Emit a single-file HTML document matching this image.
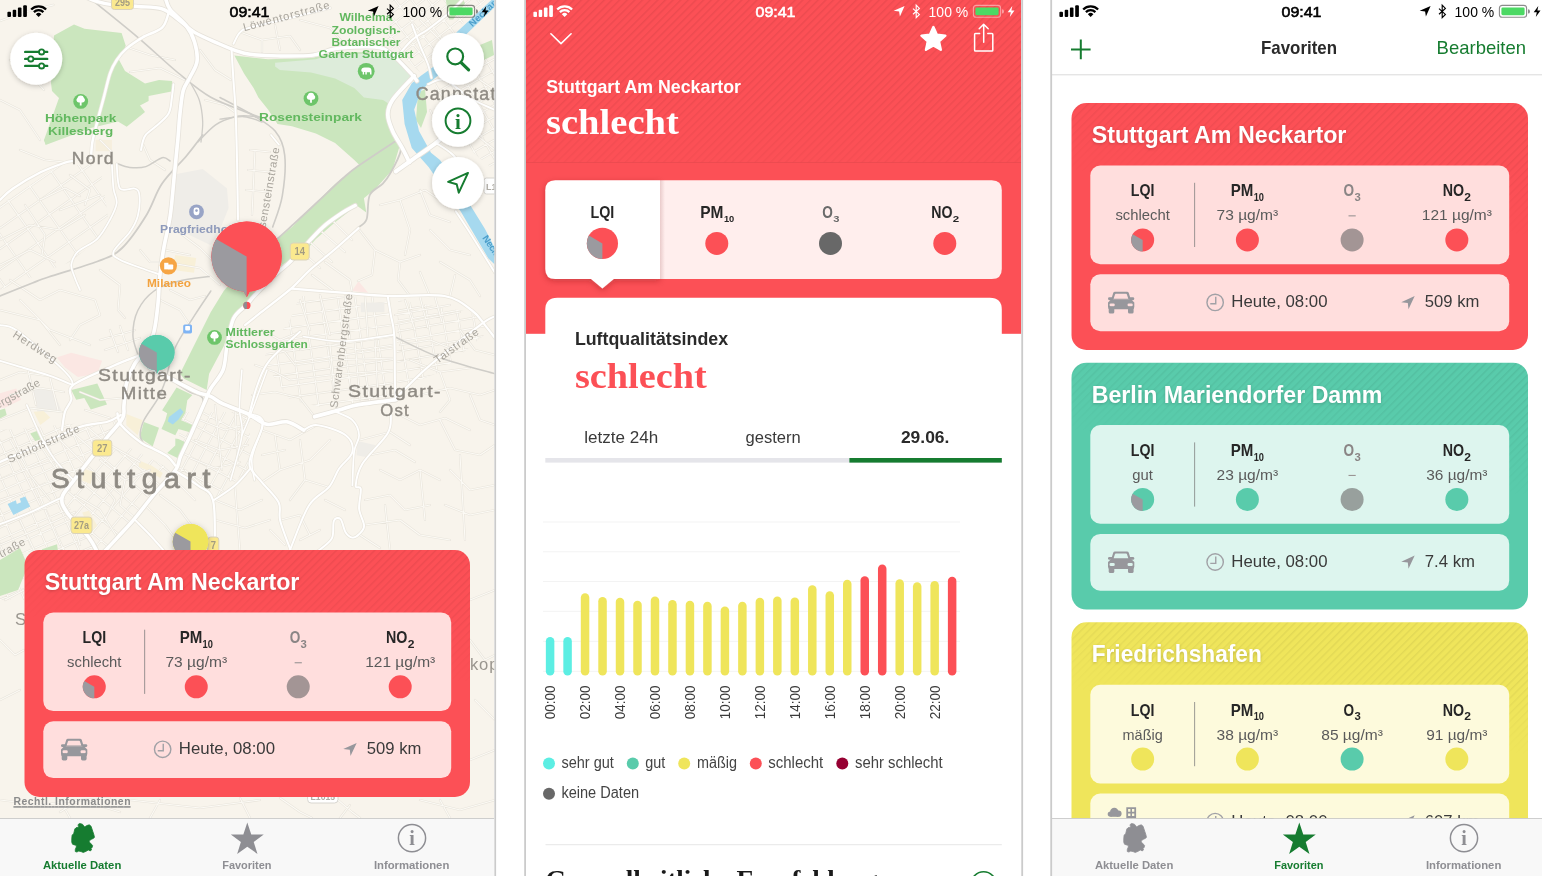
<!DOCTYPE html>
<html lang="de"><head><meta charset="utf-8"><title>Luftqualität</title>
<style>html,body{margin:0;padding:0;background:#fff;overflow:hidden}body{width:1542px;height:876px;font-family:'Liberation Sans',sans-serif}</style>
</head><body>
<svg width="1542" height="876" viewBox="0 0 1542 876" style="display:block;will-change:transform">
<defs>
<pattern id="stripeK" patternUnits="userSpaceOnUse" width="5.4" height="5.4" patternTransform="rotate(45)"><rect x="0" y="0" width="1.4" height="5.4" fill="#000" fill-opacity=".062"/></pattern>
<linearGradient id="fadeG" x1="1" y1="0" x2="0.862" y2="0.513"><stop offset="0" stop-color="#fff"/><stop offset=".45" stop-color="#fff" stop-opacity=".8"/><stop offset="1" stop-color="#fff" stop-opacity="0"/></linearGradient>
<mask id="fadeM" maskContentUnits="objectBoundingBox"><rect x="0" y="0" width="1" height="1" fill="url(#fadeG)"/></mask>
<linearGradient id="fadeH" x1="0" y1="0" x2="0" y2="1"><stop offset="0" stop-color="#fff"/><stop offset=".6" stop-color="#fff" stop-opacity=".9"/><stop offset="1" stop-color="#fff" stop-opacity=".45"/></linearGradient>
<mask id="fadeHM" maskContentUnits="objectBoundingBox"><rect x="0" y="0" width="1" height="1" fill="url(#fadeH)"/></mask>
<filter id="sh1" x="-30%" y="-30%" width="160%" height="160%"><feDropShadow dx="0" dy="1.5" stdDeviation="2.5" flood-color="#000" flood-opacity=".22"/></filter>
<filter id="sh2" x="-30%" y="-30%" width="160%" height="160%"><feDropShadow dx="0" dy="2" stdDeviation="3" flood-color="#000" flood-opacity=".28"/></filter>
<filter id="shTab" x="-20%" y="-20%" width="140%" height="150%"><feDropShadow dx="0" dy="2" stdDeviation="3" flood-color="#7a1518" flood-opacity=".35"/></filter>
<clipPath id="clipP1"><rect x="0" y="0" width="494.4" height="876"/></clipPath>
<clipPath id="clipP2"><rect x="526" y="0" width="495.3" height="876"/></clipPath>
<clipPath id="clipP3"><rect x="1052" y="0" width="490" height="876"/></clipPath>
<clipPath id="clipList3"><rect x="1052" y="75" width="490" height="743.4"/></clipPath>
</defs>
<g clip-path="url(#clipP1)">
<rect x="0.00" y="0.00" width="494.40" height="818.40" rx="0" fill="#F8F4EC" />
<clipPath id="gc436_36"><polygon points="392.0,0.0 486.0,0.0 456.0,30.0 436.0,64.0 420.0,72.0 398.0,52.0 386.0,46.0"/></clipPath><g clip-path="url(#gc436_36)"><path d="M288.2,9.3 L445.8,-113.8 M294.1,16.8 L451.7,-106.3 M299.9,24.3 L457.5,-98.9 M305.8,31.8 L463.4,-91.4 M311.6,39.3 L469.2,-83.9 M317.5,46.7 L475.1,-76.4 M323.3,54.2 L480.9,-68.9 M329.2,61.7 L486.8,-61.4 M335.0,69.2 L492.6,-53.9 M340.9,76.7 L498.5,-46.4 M346.7,84.2 L504.3,-39.0 M352.6,91.7 L510.2,-31.5 M358.4,99.1 L516.0,-24.0 M364.3,106.6 L521.9,-16.5 M370.1,114.1 L527.7,-9.0 M376.0,121.6 L533.6,-1.5 M381.8,129.1 L539.4,6.0 M387.7,136.6 L545.3,13.4 M393.5,144.1 L551.1,20.9 M399.4,151.5 L557.0,28.4 M405.2,159.0 L562.8,35.9 M411.1,166.5 L568.7,43.4 M416.9,174.0 L574.5,50.9 M422.8,181.5 L580.4,58.4 M428.6,189.0 L586.2,65.8 M284.6,27.4 L407.7,185.0 M294.8,19.4 L418.0,177.0 M305.1,11.4 L428.2,169.0 M315.3,3.4 L438.5,161.0 M325.6,-4.6 L448.7,153.0 M335.8,-12.6 L459.0,145.0 M346.1,-20.6 L469.2,137.0 M356.3,-28.6 L479.4,129.0 M366.6,-36.6 L489.7,121.0 M376.8,-44.6 L499.9,113.0 M387.0,-52.7 L510.2,105.0 M397.3,-60.7 L520.4,96.9 M407.5,-68.7 L530.7,88.9 M417.8,-76.7 L540.9,80.9 M428.0,-84.7 L551.2,72.9 M438.3,-92.7 L561.4,64.9 M448.5,-100.7 L571.6,56.9 M458.8,-108.7 L581.9,48.9 M469.0,-116.7 L592.1,40.9 " fill="none" stroke="#E8E4DB" stroke-width="2.2"/><path d="M288.2,9.3 L445.8,-113.8 M294.1,16.8 L451.7,-106.3 M299.9,24.3 L457.5,-98.9 M305.8,31.8 L463.4,-91.4 M311.6,39.3 L469.2,-83.9 M317.5,46.7 L475.1,-76.4 M323.3,54.2 L480.9,-68.9 M329.2,61.7 L486.8,-61.4 M335.0,69.2 L492.6,-53.9 M340.9,76.7 L498.5,-46.4 M346.7,84.2 L504.3,-39.0 M352.6,91.7 L510.2,-31.5 M358.4,99.1 L516.0,-24.0 M364.3,106.6 L521.9,-16.5 M370.1,114.1 L527.7,-9.0 M376.0,121.6 L533.6,-1.5 M381.8,129.1 L539.4,6.0 M387.7,136.6 L545.3,13.4 M393.5,144.1 L551.1,20.9 M399.4,151.5 L557.0,28.4 M405.2,159.0 L562.8,35.9 M411.1,166.5 L568.7,43.4 M416.9,174.0 L574.5,50.9 M422.8,181.5 L580.4,58.4 M428.6,189.0 L586.2,65.8 M284.6,27.4 L407.7,185.0 M294.8,19.4 L418.0,177.0 M305.1,11.4 L428.2,169.0 M315.3,3.4 L438.5,161.0 M325.6,-4.6 L448.7,153.0 M335.8,-12.6 L459.0,145.0 M346.1,-20.6 L469.2,137.0 M356.3,-28.6 L479.4,129.0 M366.6,-36.6 L489.7,121.0 M376.8,-44.6 L499.9,113.0 M387.0,-52.7 L510.2,105.0 M397.3,-60.7 L520.4,96.9 M407.5,-68.7 L530.7,88.9 M417.8,-76.7 L540.9,80.9 M428.0,-84.7 L551.2,72.9 M438.3,-92.7 L561.4,64.9 M448.5,-100.7 L571.6,56.9 M458.8,-108.7 L581.9,48.9 M469.0,-116.7 L592.1,40.9 " fill="none" stroke="#FCFAF5" stroke-width="1.1"/></g>
<clipPath id="gc464_110"><polygon points="434.0,78.0 470.0,60.0 494.0,50.0 494.0,170.0 470.0,150.0 440.0,110.0"/></clipPath><g clip-path="url(#gc464_110)"><path d="M290.6,49.6 L498.4,-70.4 M295.6,58.3 L503.4,-61.7 M300.6,66.9 L508.4,-53.1 M305.6,75.6 L513.4,-44.4 M310.6,84.3 L518.4,-35.7 M315.6,92.9 L523.4,-27.1 M320.6,101.6 L528.4,-18.4 M325.6,110.2 L533.4,-9.8 M330.6,118.9 L538.4,-1.1 M335.6,127.6 L543.4,7.6 M340.6,136.2 L548.4,16.2 M345.6,144.9 L553.4,24.9 M350.6,153.5 L558.4,33.5 M355.6,162.2 L563.4,42.2 M360.6,170.9 L568.4,50.9 M365.6,179.5 L573.4,59.5 M370.6,188.2 L578.4,68.2 M375.6,196.8 L583.4,76.8 M380.6,205.5 L588.4,85.5 M385.6,214.2 L593.4,94.2 M390.6,222.8 L598.4,102.8 M395.6,231.5 L603.4,111.5 M400.6,240.1 L608.4,120.1 M405.6,248.8 L613.4,128.8 M410.6,257.5 L618.4,137.5 M415.6,266.1 L623.4,146.1 M420.6,274.8 L628.4,154.8 M425.6,283.4 L633.4,163.4 M430.6,292.1 L638.4,172.1 M284.5,75.1 L404.5,282.9 M296.6,68.1 L416.6,275.9 M308.7,61.1 L428.7,268.9 M320.9,54.1 L440.9,261.9 M333.0,47.1 L453.0,254.9 M345.1,40.1 L465.1,247.9 M357.2,33.1 L477.2,240.9 M369.4,26.1 L489.4,233.9 M381.5,19.1 L501.5,226.9 M393.6,12.1 L513.6,219.9 M405.7,5.1 L525.7,212.9 M417.9,-1.9 L537.9,205.9 M430.0,-8.9 L550.0,198.9 M442.1,-15.9 L562.1,191.9 M454.2,-22.9 L574.2,184.9 M466.4,-29.9 L586.4,177.9 M478.5,-36.9 L598.5,170.9 M490.6,-43.9 L610.6,163.9 M502.7,-50.9 L622.7,156.9 M514.9,-57.9 L634.9,149.9 M527.0,-64.9 L647.0,142.9 " fill="none" stroke="#E8E4DB" stroke-width="2.2"/><path d="M290.6,49.6 L498.4,-70.4 M295.6,58.3 L503.4,-61.7 M300.6,66.9 L508.4,-53.1 M305.6,75.6 L513.4,-44.4 M310.6,84.3 L518.4,-35.7 M315.6,92.9 L523.4,-27.1 M320.6,101.6 L528.4,-18.4 M325.6,110.2 L533.4,-9.8 M330.6,118.9 L538.4,-1.1 M335.6,127.6 L543.4,7.6 M340.6,136.2 L548.4,16.2 M345.6,144.9 L553.4,24.9 M350.6,153.5 L558.4,33.5 M355.6,162.2 L563.4,42.2 M360.6,170.9 L568.4,50.9 M365.6,179.5 L573.4,59.5 M370.6,188.2 L578.4,68.2 M375.6,196.8 L583.4,76.8 M380.6,205.5 L588.4,85.5 M385.6,214.2 L593.4,94.2 M390.6,222.8 L598.4,102.8 M395.6,231.5 L603.4,111.5 M400.6,240.1 L608.4,120.1 M405.6,248.8 L613.4,128.8 M410.6,257.5 L618.4,137.5 M415.6,266.1 L623.4,146.1 M420.6,274.8 L628.4,154.8 M425.6,283.4 L633.4,163.4 M430.6,292.1 L638.4,172.1 M284.5,75.1 L404.5,282.9 M296.6,68.1 L416.6,275.9 M308.7,61.1 L428.7,268.9 M320.9,54.1 L440.9,261.9 M333.0,47.1 L453.0,254.9 M345.1,40.1 L465.1,247.9 M357.2,33.1 L477.2,240.9 M369.4,26.1 L489.4,233.9 M381.5,19.1 L501.5,226.9 M393.6,12.1 L513.6,219.9 M405.7,5.1 L525.7,212.9 M417.9,-1.9 L537.9,205.9 M430.0,-8.9 L550.0,198.9 M442.1,-15.9 L562.1,191.9 M454.2,-22.9 L574.2,184.9 M466.4,-29.9 L586.4,177.9 M478.5,-36.9 L598.5,170.9 M490.6,-43.9 L610.6,163.9 M502.7,-50.9 L622.7,156.9 M514.9,-57.9 L634.9,149.9 M527.0,-64.9 L647.0,142.9 " fill="none" stroke="#FCFAF5" stroke-width="1.1"/></g>
<clipPath id="gc59_510"><polygon points="0.0,430.0 60.0,425.0 118.0,420.0 92.0,458.0 64.0,497.0 88.0,540.0 97.0,552.0 24.0,552.0 24.0,600.0 0.0,600.0"/></clipPath><g clip-path="url(#gc59_510)"><path d="M-184.8,405.1 L144.1,258.6 M-180.3,415.1 L148.6,268.7 M-175.8,425.2 L153.1,278.7 M-171.3,435.2 L157.5,288.8 M-166.9,445.3 L162.0,298.8 M-162.4,455.3 L166.5,308.9 M-157.9,465.4 L171.0,318.9 M-153.4,475.4 L175.4,329.0 M-149.0,485.5 L179.9,339.0 M-144.5,495.5 L184.4,349.1 M-140.0,505.6 L188.9,359.1 M-135.5,515.6 L193.3,369.2 M-131.1,525.7 L197.8,379.2 M-126.6,535.7 L202.3,389.3 M-122.1,545.8 L206.8,399.3 M-117.6,555.8 L211.2,409.4 M-113.2,565.9 L215.7,419.4 M-108.7,575.9 L220.2,429.5 M-104.2,586.0 L224.7,439.5 M-99.7,596.0 L229.1,449.6 M-95.3,606.1 L233.6,459.6 M-90.8,616.1 L238.1,469.7 M-86.3,626.1 L242.6,479.7 M-81.8,636.2 L247.0,489.8 M-77.4,646.2 L251.5,499.8 M-72.9,656.3 L256.0,509.9 M-68.4,666.3 L260.5,519.9 M-64.0,676.4 L264.9,530.0 M-59.5,686.4 L269.4,540.0 M-55.0,696.5 L273.9,550.1 M-50.5,706.5 L278.3,560.1 M-46.1,716.6 L282.8,570.2 M-41.6,726.6 L287.3,580.2 M-37.1,736.7 L291.8,590.3 M-32.6,746.7 L296.2,600.3 M-28.2,756.8 L300.7,610.4 M-23.7,766.8 L305.2,620.4 M-191.4,424.5 L-45.0,753.3 M-178.7,418.8 L-32.2,747.7 M-165.9,413.1 L-19.4,742.0 M-153.1,407.4 L-6.6,736.3 M-140.3,401.7 L6.1,730.6 M-127.5,396.0 L18.9,724.9 M-114.7,390.3 L31.7,719.2 M-101.9,384.6 L44.5,713.5 M-89.1,378.9 L57.3,707.8 M-76.3,373.2 L70.1,702.1 M-63.5,367.5 L82.9,696.4 M-50.8,361.8 L95.7,690.7 M-38.0,356.1 L108.5,685.0 M-25.2,350.4 L121.3,679.3 M-12.4,344.7 L134.0,673.6 M0.4,339.1 L146.8,667.9 M13.2,333.4 L159.6,662.2 M26.0,327.7 L172.4,656.5 M38.8,322.0 L185.2,650.8 M51.6,316.3 L198.0,645.2 M64.4,310.6 L210.8,639.5 M77.1,304.9 L223.6,633.8 M89.9,299.2 L236.4,628.1 M102.7,293.5 L249.1,622.4 M115.5,287.8 L261.9,616.7 M128.3,282.1 L274.7,611.0 M141.1,276.4 L287.5,605.3 M153.9,270.7 L300.3,599.6 M166.7,265.0 L313.1,593.9 " fill="none" stroke="#E8E4DB" stroke-width="2.2"/><path d="M-184.8,405.1 L144.1,258.6 M-180.3,415.1 L148.6,268.7 M-175.8,425.2 L153.1,278.7 M-171.3,435.2 L157.5,288.8 M-166.9,445.3 L162.0,298.8 M-162.4,455.3 L166.5,308.9 M-157.9,465.4 L171.0,318.9 M-153.4,475.4 L175.4,329.0 M-149.0,485.5 L179.9,339.0 M-144.5,495.5 L184.4,349.1 M-140.0,505.6 L188.9,359.1 M-135.5,515.6 L193.3,369.2 M-131.1,525.7 L197.8,379.2 M-126.6,535.7 L202.3,389.3 M-122.1,545.8 L206.8,399.3 M-117.6,555.8 L211.2,409.4 M-113.2,565.9 L215.7,419.4 M-108.7,575.9 L220.2,429.5 M-104.2,586.0 L224.7,439.5 M-99.7,596.0 L229.1,449.6 M-95.3,606.1 L233.6,459.6 M-90.8,616.1 L238.1,469.7 M-86.3,626.1 L242.6,479.7 M-81.8,636.2 L247.0,489.8 M-77.4,646.2 L251.5,499.8 M-72.9,656.3 L256.0,509.9 M-68.4,666.3 L260.5,519.9 M-64.0,676.4 L264.9,530.0 M-59.5,686.4 L269.4,540.0 M-55.0,696.5 L273.9,550.1 M-50.5,706.5 L278.3,560.1 M-46.1,716.6 L282.8,570.2 M-41.6,726.6 L287.3,580.2 M-37.1,736.7 L291.8,590.3 M-32.6,746.7 L296.2,600.3 M-28.2,756.8 L300.7,610.4 M-23.7,766.8 L305.2,620.4 M-191.4,424.5 L-45.0,753.3 M-178.7,418.8 L-32.2,747.7 M-165.9,413.1 L-19.4,742.0 M-153.1,407.4 L-6.6,736.3 M-140.3,401.7 L6.1,730.6 M-127.5,396.0 L18.9,724.9 M-114.7,390.3 L31.7,719.2 M-101.9,384.6 L44.5,713.5 M-89.1,378.9 L57.3,707.8 M-76.3,373.2 L70.1,702.1 M-63.5,367.5 L82.9,696.4 M-50.8,361.8 L95.7,690.7 M-38.0,356.1 L108.5,685.0 M-25.2,350.4 L121.3,679.3 M-12.4,344.7 L134.0,673.6 M0.4,339.1 L146.8,667.9 M13.2,333.4 L159.6,662.2 M26.0,327.7 L172.4,656.5 M38.8,322.0 L185.2,650.8 M51.6,316.3 L198.0,645.2 M64.4,310.6 L210.8,639.5 M77.1,304.9 L223.6,633.8 M89.9,299.2 L236.4,628.1 M102.7,293.5 L249.1,622.4 M115.5,287.8 L261.9,616.7 M128.3,282.1 L274.7,611.0 M141.1,276.4 L287.5,605.3 M153.9,270.7 L300.3,599.6 M166.7,265.0 L313.1,593.9 " fill="none" stroke="#FCFAF5" stroke-width="1.1"/></g>
<clipPath id="gc118_498"><polygon points="125.0,445.0 172.0,470.0 140.0,515.0 105.0,550.0 98.0,552.0 68.0,512.0 64.0,497.0 92.0,458.0"/></clipPath><g clip-path="url(#gc118_498)"><path d="M-51.0,497.7 L87.8,332.2 M-41.8,505.4 L97.0,339.9 M-32.6,513.1 L106.2,347.6 M-23.4,520.8 L115.4,355.3 M-14.2,528.5 L124.6,363.1 M-5.0,536.2 L133.8,370.8 M4.1,544.0 L143.0,378.5 M13.3,551.7 L152.2,386.2 M22.5,559.4 L161.4,393.9 M31.7,567.1 L170.6,401.6 M40.9,574.8 L179.8,409.3 M50.1,582.5 L189.0,417.1 M59.3,590.2 L198.1,424.8 M68.5,597.9 L207.3,432.5 M77.7,605.7 L216.5,440.2 M86.9,613.4 L225.7,447.9 M96.1,621.1 L234.9,455.6 M105.3,628.8 L244.1,463.3 M114.5,636.5 L253.3,471.0 M123.7,644.2 L262.5,478.8 M132.8,651.9 L271.7,486.5 M142.0,659.7 L280.9,494.2 M151.2,667.4 L290.1,501.9 M-43.8,523.3 L121.7,662.1 M-33.5,511.0 L132.0,649.9 M-23.2,498.8 L142.2,637.6 M-12.9,486.5 L152.5,625.4 M-2.7,474.3 L162.8,613.1 M7.6,462.0 L173.1,600.9 M17.9,449.8 L183.4,588.6 M28.2,437.5 L193.7,576.3 M38.5,425.2 L203.9,564.1 M48.8,413.0 L214.2,551.8 M59.1,400.7 L224.5,539.6 M69.3,388.5 L234.8,527.3 M79.6,376.2 L245.1,515.1 M89.9,364.0 L255.4,502.8 M100.2,351.7 L265.7,490.6 M110.5,339.5 L275.9,478.3 M120.8,327.2 L286.2,466.0 " fill="none" stroke="#E8E4DB" stroke-width="2.2"/><path d="M-51.0,497.7 L87.8,332.2 M-41.8,505.4 L97.0,339.9 M-32.6,513.1 L106.2,347.6 M-23.4,520.8 L115.4,355.3 M-14.2,528.5 L124.6,363.1 M-5.0,536.2 L133.8,370.8 M4.1,544.0 L143.0,378.5 M13.3,551.7 L152.2,386.2 M22.5,559.4 L161.4,393.9 M31.7,567.1 L170.6,401.6 M40.9,574.8 L179.8,409.3 M50.1,582.5 L189.0,417.1 M59.3,590.2 L198.1,424.8 M68.5,597.9 L207.3,432.5 M77.7,605.7 L216.5,440.2 M86.9,613.4 L225.7,447.9 M96.1,621.1 L234.9,455.6 M105.3,628.8 L244.1,463.3 M114.5,636.5 L253.3,471.0 M123.7,644.2 L262.5,478.8 M132.8,651.9 L271.7,486.5 M142.0,659.7 L280.9,494.2 M151.2,667.4 L290.1,501.9 M-43.8,523.3 L121.7,662.1 M-33.5,511.0 L132.0,649.9 M-23.2,498.8 L142.2,637.6 M-12.9,486.5 L152.5,625.4 M-2.7,474.3 L162.8,613.1 M7.6,462.0 L173.1,600.9 M17.9,449.8 L183.4,588.6 M28.2,437.5 L193.7,576.3 M38.5,425.2 L203.9,564.1 M48.8,413.0 L214.2,551.8 M59.1,400.7 L224.5,539.6 M69.3,388.5 L234.8,527.3 M79.6,376.2 L245.1,515.1 M89.9,364.0 L255.4,502.8 M100.2,351.7 L265.7,490.6 M110.5,339.5 L275.9,478.3 M120.8,327.2 L286.2,466.0 " fill="none" stroke="#FCFAF5" stroke-width="1.1"/></g>
<clipPath id="gc214_456"><polygon points="180.0,412.0 250.0,412.0 250.0,468.0 214.0,500.0 178.0,470.0"/></clipPath><g clip-path="url(#gc214_456)"><path d="M75.6,482.1 L158.2,326.7 M85.3,487.2 L167.9,331.8 M95.0,492.4 L177.6,337.0 M104.7,497.6 L187.3,342.2 M114.4,502.7 L197.0,347.3 M124.1,507.9 L206.8,352.5 M133.8,513.0 L216.5,357.6 M143.5,518.2 L226.2,362.8 M153.3,523.4 L235.9,368.0 M163.0,528.5 L245.6,373.1 M172.7,533.7 L255.3,378.3 M182.4,538.9 L265.0,383.5 M192.1,544.0 L274.7,388.6 M201.8,549.2 L284.5,393.8 M211.5,554.4 L294.2,399.0 M221.2,559.5 L303.9,404.1 M231.0,564.7 L313.6,409.3 M240.7,569.8 L323.3,414.4 M250.4,575.0 L333.0,419.6 M260.1,580.2 L342.7,424.8 M269.8,585.3 L352.4,429.9 M88.4,504.7 L243.8,587.4 M95.5,491.5 L250.9,574.1 M102.5,478.3 L257.9,560.9 M109.5,465.0 L264.9,547.6 M116.6,451.8 L272.0,534.4 M123.6,438.5 L279.0,521.2 M130.7,425.3 L286.1,507.9 M137.7,412.0 L293.1,494.7 M144.8,398.8 L300.1,481.4 M151.8,385.5 L307.2,468.2 M158.8,372.3 L314.2,454.9 M165.9,359.1 L321.3,441.7 M172.9,345.8 L328.3,428.4 M180.0,332.6 L335.4,415.2 M187.0,319.3 L342.4,402.0 " fill="none" stroke="#E8E4DB" stroke-width="2.2"/><path d="M75.6,482.1 L158.2,326.7 M85.3,487.2 L167.9,331.8 M95.0,492.4 L177.6,337.0 M104.7,497.6 L187.3,342.2 M114.4,502.7 L197.0,347.3 M124.1,507.9 L206.8,352.5 M133.8,513.0 L216.5,357.6 M143.5,518.2 L226.2,362.8 M153.3,523.4 L235.9,368.0 M163.0,528.5 L245.6,373.1 M172.7,533.7 L255.3,378.3 M182.4,538.9 L265.0,383.5 M192.1,544.0 L274.7,388.6 M201.8,549.2 L284.5,393.8 M211.5,554.4 L294.2,399.0 M221.2,559.5 L303.9,404.1 M231.0,564.7 L313.6,409.3 M240.7,569.8 L323.3,414.4 M250.4,575.0 L333.0,419.6 M260.1,580.2 L342.7,424.8 M269.8,585.3 L352.4,429.9 M88.4,504.7 L243.8,587.4 M95.5,491.5 L250.9,574.1 M102.5,478.3 L257.9,560.9 M109.5,465.0 L264.9,547.6 M116.6,451.8 L272.0,534.4 M123.6,438.5 L279.0,521.2 M130.7,425.3 L286.1,507.9 M137.7,412.0 L293.1,494.7 M144.8,398.8 L300.1,481.4 M151.8,385.5 L307.2,468.2 M158.8,372.3 L314.2,454.9 M165.9,359.1 L321.3,441.7 M172.9,345.8 L328.3,428.4 M180.0,332.6 L335.4,415.2 M187.0,319.3 L342.4,402.0 " fill="none" stroke="#FCFAF5" stroke-width="1.1"/></g>
<clipPath id="gc328_353"><polygon points="300.0,296.0 390.0,297.0 395.0,398.0 335.0,410.0 290.0,400.0 262.0,360.0 290.0,320.0"/></clipPath><g clip-path="url(#gc328_353)"><path d="M176.5,227.4 L440.0,190.4 M178.1,238.8 L441.6,201.8 M179.7,250.2 L443.2,213.2 M181.3,261.6 L444.8,224.6 M182.9,273.0 L446.4,236.0 M184.5,284.4 L448.0,247.3 M186.1,295.8 L449.6,258.7 M187.7,307.1 L451.2,270.1 M189.3,318.5 L452.8,281.5 M190.9,329.9 L454.4,292.9 M192.5,341.3 L456.0,304.3 M194.2,352.7 L457.6,315.7 M195.8,364.1 L459.2,327.1 M197.4,375.5 L460.8,338.5 M199.0,386.9 L462.4,349.8 M200.6,398.2 L464.0,361.2 M202.2,409.6 L465.6,372.6 M203.8,421.0 L467.2,384.0 M205.4,432.4 L468.8,395.4 M207.0,443.8 L470.4,406.8 M208.6,455.2 L472.0,418.2 M210.2,466.6 L473.6,429.6 M211.8,478.0 L475.2,440.9 M213.4,489.4 L476.8,452.3 M215.0,500.7 L478.4,463.7 M216.6,512.1 L480.0,475.1 M218.2,523.5 L481.6,486.5 M158.5,242.6 L195.5,506.0 M175.3,240.2 L212.3,503.6 M192.1,237.9 L229.2,501.3 M209.0,235.5 L246.0,498.9 M225.8,233.1 L262.8,496.5 M242.7,230.8 L279.7,494.2 M259.5,228.4 L296.5,491.8 M276.3,226.0 L313.3,489.4 M293.2,223.7 L330.2,487.1 M310.0,221.3 L347.0,484.7 M326.8,218.9 L363.8,482.3 M343.7,216.6 L380.7,480.0 M360.5,214.2 L397.5,477.6 M377.3,211.8 L414.3,475.2 M394.2,209.5 L431.2,472.9 M411.0,207.1 L448.0,470.5 M427.8,204.7 L464.9,468.1 M444.7,202.4 L481.7,465.8 M461.5,200.0 L498.5,463.4 " fill="none" stroke="#E8E4DB" stroke-width="2.2"/><path d="M176.5,227.4 L440.0,190.4 M178.1,238.8 L441.6,201.8 M179.7,250.2 L443.2,213.2 M181.3,261.6 L444.8,224.6 M182.9,273.0 L446.4,236.0 M184.5,284.4 L448.0,247.3 M186.1,295.8 L449.6,258.7 M187.7,307.1 L451.2,270.1 M189.3,318.5 L452.8,281.5 M190.9,329.9 L454.4,292.9 M192.5,341.3 L456.0,304.3 M194.2,352.7 L457.6,315.7 M195.8,364.1 L459.2,327.1 M197.4,375.5 L460.8,338.5 M199.0,386.9 L462.4,349.8 M200.6,398.2 L464.0,361.2 M202.2,409.6 L465.6,372.6 M203.8,421.0 L467.2,384.0 M205.4,432.4 L468.8,395.4 M207.0,443.8 L470.4,406.8 M208.6,455.2 L472.0,418.2 M210.2,466.6 L473.6,429.6 M211.8,478.0 L475.2,440.9 M213.4,489.4 L476.8,452.3 M215.0,500.7 L478.4,463.7 M216.6,512.1 L480.0,475.1 M218.2,523.5 L481.6,486.5 M158.5,242.6 L195.5,506.0 M175.3,240.2 L212.3,503.6 M192.1,237.9 L229.2,501.3 M209.0,235.5 L246.0,498.9 M225.8,233.1 L262.8,496.5 M242.7,230.8 L279.7,494.2 M259.5,228.4 L296.5,491.8 M276.3,226.0 L313.3,489.4 M293.2,223.7 L330.2,487.1 M310.0,221.3 L347.0,484.7 M326.8,218.9 L363.8,482.3 M343.7,216.6 L380.7,480.0 M360.5,214.2 L397.5,477.6 M377.3,211.8 L414.3,475.2 M394.2,209.5 L431.2,472.9 M411.0,207.1 L448.0,470.5 M427.8,204.7 L464.9,468.1 M444.7,202.4 L481.7,465.8 M461.5,200.0 L498.5,463.4 " fill="none" stroke="#FCFAF5" stroke-width="1.1"/></g>
<clipPath id="gc443_341"><polygon points="398.0,300.0 470.0,312.0 490.0,330.0 440.0,372.0 412.0,383.0 396.0,383.0"/></clipPath><g clip-path="url(#gc443_341)"><path d="M331.7,251.5 L516.8,218.8 M333.4,261.3 L518.6,228.7 M335.1,271.2 L520.3,238.5 M336.9,281.0 L522.0,248.4 M338.6,290.9 L523.8,258.2 M340.4,300.7 L525.5,268.1 M342.1,310.6 L527.2,277.9 M343.8,320.4 L529.0,287.8 M345.6,330.2 L530.7,297.6 M347.3,340.1 L532.4,307.5 M349.0,349.9 L534.2,317.3 M350.8,359.8 L535.9,327.1 M352.5,369.6 L537.7,337.0 M354.2,379.5 L539.4,346.8 M356.0,389.3 L541.1,356.7 M357.7,399.2 L542.9,366.5 M359.5,409.0 L544.6,376.4 M361.2,418.9 L546.3,386.2 M362.9,428.7 L548.1,396.1 M364.7,438.6 L549.8,405.9 M366.4,448.4 L551.5,415.8 M368.1,458.3 L553.3,425.6 M369.9,468.1 L555.0,435.5 M312.4,269.1 L345.1,454.2 M327.2,266.5 L359.9,451.6 M342.0,263.9 L374.6,449.0 M356.8,261.3 L389.4,446.4 M371.5,258.7 L404.2,443.8 M386.3,256.0 L418.9,441.2 M401.1,253.4 L433.7,438.6 M415.8,250.8 L448.5,436.0 M430.6,248.2 L463.3,433.4 M445.4,245.6 L478.0,430.8 M460.2,243.0 L492.8,428.2 M474.9,240.4 L507.6,425.6 M489.7,237.8 L522.4,423.0 M504.5,235.2 L537.1,420.4 M519.2,232.6 L551.9,417.7 M534.0,230.0 L566.7,415.1 M548.8,227.4 L581.4,412.5 " fill="none" stroke="#E8E4DB" stroke-width="2.2"/><path d="M331.7,251.5 L516.8,218.8 M333.4,261.3 L518.6,228.7 M335.1,271.2 L520.3,238.5 M336.9,281.0 L522.0,248.4 M338.6,290.9 L523.8,258.2 M340.4,300.7 L525.5,268.1 M342.1,310.6 L527.2,277.9 M343.8,320.4 L529.0,287.8 M345.6,330.2 L530.7,297.6 M347.3,340.1 L532.4,307.5 M349.0,349.9 L534.2,317.3 M350.8,359.8 L535.9,327.1 M352.5,369.6 L537.7,337.0 M354.2,379.5 L539.4,346.8 M356.0,389.3 L541.1,356.7 M357.7,399.2 L542.9,366.5 M359.5,409.0 L544.6,376.4 M361.2,418.9 L546.3,386.2 M362.9,428.7 L548.1,396.1 M364.7,438.6 L549.8,405.9 M366.4,448.4 L551.5,415.8 M368.1,458.3 L553.3,425.6 M369.9,468.1 L555.0,435.5 M312.4,269.1 L345.1,454.2 M327.2,266.5 L359.9,451.6 M342.0,263.9 L374.6,449.0 M356.8,261.3 L389.4,446.4 M371.5,258.7 L404.2,443.8 M386.3,256.0 L418.9,441.2 M401.1,253.4 L433.7,438.6 M415.8,250.8 L448.5,436.0 M430.6,248.2 L463.3,433.4 M445.4,245.6 L478.0,430.8 M460.2,243.0 L492.8,428.2 M474.9,240.4 L507.6,425.6 M489.7,237.8 L522.4,423.0 M504.5,235.2 L537.1,420.4 M519.2,232.6 L551.9,417.7 M534.0,230.0 L566.7,415.1 M548.8,227.4 L581.4,412.5 " fill="none" stroke="#FCFAF5" stroke-width="1.1"/></g>
<clipPath id="gc55_227"><polygon points="0.0,205.0 60.0,165.0 100.0,165.0 110.0,230.0 70.0,262.0 0.0,290.0"/></clipPath><g clip-path="url(#gc55_227)"><path d="M-133.4,176.3 L71.4,32.9 M-123.7,190.2 L81.1,46.9 M-113.9,204.2 L90.9,60.8 M-104.2,218.1 L100.6,74.7 M-94.4,232.0 L110.4,88.6 M-84.7,246.0 L120.1,102.6 M-74.9,259.9 L129.9,116.5 M-65.2,273.8 L139.6,130.4 M-55.4,287.7 L149.4,144.3 M-45.7,301.7 L159.1,158.3 M-35.9,315.6 L168.9,172.2 M-26.2,329.5 L178.6,186.1 M-16.4,343.4 L188.4,200.0 M-6.7,357.4 L198.1,214.0 M3.1,371.3 L207.9,227.9 M12.8,385.2 L217.6,241.8 M22.6,399.1 L227.4,255.7 M32.3,413.1 L237.1,269.7 M42.1,427.0 L246.9,283.6 M-142.0,212.9 L1.4,417.7 M-120.7,198.0 L22.7,402.7 M-99.4,183.0 L44.0,387.8 M-78.1,168.1 L65.3,372.9 M-56.8,153.2 L86.6,358.0 M-35.5,138.3 L107.9,343.1 M-14.2,123.4 L129.2,328.2 M7.1,108.5 L150.5,313.3 M28.4,93.6 L171.8,298.3 M49.7,78.6 L193.0,283.4 M71.0,63.7 L214.3,268.5 M92.3,48.8 L235.6,253.6 M113.5,33.9 L256.9,238.7 " fill="none" stroke="#E8E4DB" stroke-width="2.2"/><path d="M-133.4,176.3 L71.4,32.9 M-123.7,190.2 L81.1,46.9 M-113.9,204.2 L90.9,60.8 M-104.2,218.1 L100.6,74.7 M-94.4,232.0 L110.4,88.6 M-84.7,246.0 L120.1,102.6 M-74.9,259.9 L129.9,116.5 M-65.2,273.8 L139.6,130.4 M-55.4,287.7 L149.4,144.3 M-45.7,301.7 L159.1,158.3 M-35.9,315.6 L168.9,172.2 M-26.2,329.5 L178.6,186.1 M-16.4,343.4 L188.4,200.0 M-6.7,357.4 L198.1,214.0 M3.1,371.3 L207.9,227.9 M12.8,385.2 L217.6,241.8 M22.6,399.1 L227.4,255.7 M32.3,413.1 L237.1,269.7 M42.1,427.0 L246.9,283.6 M-142.0,212.9 L1.4,417.7 M-120.7,198.0 L22.7,402.7 M-99.4,183.0 L44.0,387.8 M-78.1,168.1 L65.3,372.9 M-56.8,153.2 L86.6,358.0 M-35.5,138.3 L107.9,343.1 M-14.2,123.4 L129.2,328.2 M7.1,108.5 L150.5,313.3 M28.4,93.6 L171.8,298.3 M49.7,78.6 L193.0,283.4 M71.0,63.7 L214.3,268.5 M92.3,48.8 L235.6,253.6 M113.5,33.9 L256.9,238.7 " fill="none" stroke="#FCFAF5" stroke-width="1.1"/></g>
<polygon points="74.0,24.5 84.5,28.7 121.6,33.0 126.0,46.5 118.0,58.0 125.0,71.0 145.0,83.6 159.0,80.0 172.0,81.0 174.0,91.0 148.6,96.0 148.6,101.0 140.0,105.6 145.0,112.0 126.7,126.7 118.0,121.6 91.0,128.0 45.6,145.0 44.0,140.0 59.0,98.0 52.0,91.0 51.0,83.0 54.0,35.5" fill="#CBE6BE" />
<polygon points="234.4,55.6 268.0,59.2 311.1,58.0 327.9,54.4 354.0,52.0 387.8,52.5 402.2,61.6 411.8,78.4 397.4,95.1 387.8,109.5 387.8,123.9 395.0,140.7 399.8,145.5 392.6,169.5 375.8,188.6 363.9,198.2 366.3,212.6 356.7,205.4 335.1,222.2 315.9,239.0 306.3,250.0 282.3,264.7 262.0,287.0 245.0,305.0 233.5,318.6 223.7,346.2 209.1,373.8 206.7,390.1 184.1,378.8 180.0,373.8 191.3,351.0 210.8,312.0 223.7,291.0 240.0,272.0 277.5,239.0 292.0,227.0 311.1,207.8 335.1,183.9 359.1,164.7 354.3,159.9 335.1,143.1 315.9,133.5 292.0,126.3 277.5,123.9 268.0,109.5 258.4,97.5 253.6,88.0 244.0,73.6" fill="#CBE6BE" />
<polygon points="275.1,62.8 315.9,59.2 330.3,54.4 387.8,53.2 402.2,61.6 411.8,76.0 402.2,88.0 390.2,104.7 383.0,99.9 363.9,97.5 354.3,88.0 335.1,78.4 311.1,72.4 279.9,70.0 275.1,66.4" fill="#DDECDA" />
<polygon points="176.7,173.9 202.7,169.0 227.0,188.5 228.6,208.0 218.9,232.3 210.8,245.2 170.2,225.8" fill="#EFEDE8" />
<polygon points="95.7,139.9 111.9,139.9 111.9,151.2 95.7,151.2" fill="#F6EFDE" />
<polygon points="43.8,139.9 53.5,135.0 55.0,137.0 45.0,142.0" fill="#CBE6BE" />
<polygon points="175.1,255.0 196.2,258.0 194.0,272.8 173.0,270.0" fill="#F8F0D8" />
<polygon points="56.7,357.5 71.3,352.7 102.1,360.8 97.3,373.8 77.8,377.0 64.9,367.3" fill="#FBE7E3" />
<polygon points="0.0,393.2 16.2,388.4 21.1,399.7 4.9,407.8 0.0,408.0" fill="#FBE7E3" />
<polygon points="71.3,390.0 97.3,383.5 107.0,404.6 90.8,409.4 84.3,398.1 76.2,399.7" fill="#CBE6BE" />
<polygon points="32.4,388.4 53.5,390.0 61.6,412.0 37.3,412.0" fill="#EFEDE8" />
<polygon points="358.5,281.3 368.2,292.7 352.0,291.0" fill="#FBE7E3" />
<polygon points="360.9,302.4 384.4,302.4 384.4,312.2 360.9,312.2" fill="#EFEDE8" />
<polygon points="357.4,441.1 375.9,445.3 365.8,457.0 356.6,455.3" fill="#EFEDE8" />
<polygon points="176.6,387.6 192.3,395.1 187.3,400.2 185.4,412.7 181.0,420.3 192.9,425.3 189.8,432.2 178.5,429.0 175.3,435.3 161.5,429.0 165.3,420.3 167.2,413.3 162.1,410.2" fill="#CBE6BE" />
<polygon points="143.9,422.1 159.0,427.8 152.7,446.6 139.5,437.8" fill="#CBE6BE" />
<polygon points="178.5,439.1 185.4,442.2 178.5,458.6 167.2,452.9 175.3,445.4 175.3,438.5" fill="#CBE6BE" />
<polygon points="169.0,417.1 180.4,408.3 183.5,412.1 178.5,419.6 172.8,424.6 167.8,421.5" fill="#A6D9EF" />
<polygon points="126.3,414.0 142.7,420.3 137.6,435.3 126.3,425.3" fill="#F8F0D8" />
<polygon points="138.9,460.5 151.5,465.5 162.8,473.0 160.3,478.0 147.7,470.5 138.9,466.7" fill="#F8F0D8" />
<polygon points="33.6,411.7 43.6,410.9 50.3,417.6 40.3,425.1" fill="#F8F0D8" />
<polygon points="83.9,468.8 94.0,472.1 90.6,483.9 82.2,480.5" fill="#F8F0D8" />
<polygon points="82.2,512.4 88.9,510.7 97.3,525.8 90.6,532.5" fill="#F8F0D8" />
<polygon points="7.6,504.0 15.9,500.3 16.8,504.0 21.0,502.3 19.8,498.6 25.2,496.4 30.2,506.5 13.4,514.9" fill="#A6D9EF" />
<polygon points="30.2,433.5 38.6,430.2 43.6,438.6 35.2,441.1" fill="#CBE6BE" />
<polygon points="0.0,410.0 5.0,408.4 6.7,415.1 0.0,418.4" fill="#CBE6BE" />
<polygon points="41.9,549.3 57.0,544.3 58.7,556.0 42.8,556.8" fill="#CBE6BE" />
<polygon points="0.0,560.0 20.0,548.0 28.0,566.0 18.0,590.0 0.0,596.0" fill="#CBE6BE" />
<polygon points="418.0,93.0 425.0,89.0 427.0,112.0 421.0,128.0 416.0,120.0" fill="#CBE6BE" />
<polygon points="480.0,45.0 492.0,40.0 494.0,55.0 484.0,60.0" fill="#CBE6BE" />
<polygon points="445.7,-1.0 462.8,-1.0 465.1,3.4 453.1,19.4 449.1,19.4" fill="#CBE6BE" />
<polygon points="495.0,-3.3 457.1,31.7 444.0,48.0 434.9,65.8 420.6,76.0 411.8,83.2 402.2,99.9 404.6,123.9 411.8,147.9 428.6,167.1 441.0,185.0 460.6,211.2 476.8,238.8 488.2,258.2 495.0,264.7 495.0,248.5 485.0,229.0 472.0,208.0 455.0,181.0 440.0,159.9 431.0,152.7 419.0,131.1 414.2,109.5 421.4,90.3 428.0,84.0 441.0,73.0 452.0,55.0 466.8,33.7 496.0,5.7" fill="#A6D9EF" />
<path d="M0.0,21.0 L25.0,12.0 L53.5,4.9 M10.0,60.0 L30.0,75.0 L44.0,90.0 M0.0,100.0 L20.0,110.0 L40.0,140.0 M20.0,150.0 L45.0,160.0 L64.0,162.0 M126.0,47.0 L150.0,55.0 L175.0,60.0 M130.0,72.0 L160.0,68.0 L185.0,80.0 M100.0,140.0 L112.0,152.0 L112.0,164.0 M142.0,142.0 L150.0,160.0 L165.0,170.0 M200.0,50.0 L215.0,70.0 L231.0,80.0 M205.0,100.0 L225.0,105.0 L236.0,113.0 M240.0,32.0 L262.0,40.0 L290.0,36.0 L300.0,50.0 M262.0,40.0 L262.0,52.0 M275.0,25.0 L280.0,50.0 M300.0,20.0 L330.0,28.0 L345.0,45.0 M420.0,20.0 L440.0,40.0 L455.0,60.0 M470.0,60.0 L480.0,80.0 L495.0,90.0 M440.0,100.0 L460.0,120.0 L480.0,125.0 M430.0,110.0 L440.0,130.0 M470.0,130.0 L495.0,150.0 M0.0,240.0 L30.0,225.0 L60.0,230.0 L85.0,215.0 M25.0,205.0 L45.0,235.0 L42.0,255.0 M40.0,200.0 L65.0,188.0 L80.0,196.0 M60.0,210.0 L100.0,195.0 M0.0,265.0 L30.0,250.0 L55.0,262.0 M70.0,175.0 L90.0,190.0 L85.0,205.0 M10.0,280.0 L40.0,300.0 L60.0,290.0 L95.0,300.0 L100.0,315.0 L80.0,325.0 L70.0,340.0 M20.0,300.0 L50.0,330.0 L90.0,345.0 M100.0,270.0 L120.0,285.0 L118.0,310.0 L125.0,318.0 M0.0,310.0 L40.0,320.0 L60.0,345.0 M100.0,340.0 L135.0,330.0 M105.0,350.0 L140.0,338.0 M110.0,330.0 L118.0,352.0 M120.0,326.0 L128.0,350.0 M176.0,230.0 L200.0,248.0 L212.0,260.0 M165.0,250.0 L190.0,255.0 M140.0,250.0 L150.0,262.0 L160.0,262.0 M165.0,262.0 L200.0,268.0 L220.0,285.0 M170.0,290.0 L190.0,300.0 L205.0,296.0 M160.0,300.0 L180.0,310.0 L190.0,325.0 M250.0,150.0 L270.0,152.0 M248.0,170.0 L270.0,172.0 M246.0,190.0 L268.0,192.0 M255.0,150.0 L252.0,215.0 M300.0,250.0 L320.0,268.0 M310.0,242.0 L332.0,262.0 M322.0,232.0 L345.0,252.0 M334.0,222.0 L352.0,240.0 M312.0,275.0 L335.0,292.0 M325.0,262.0 L350.0,280.0 L352.0,291.0 M358.0,228.0 L375.0,250.0 L372.0,275.0 L358.0,281.0 M375.0,250.0 L400.0,262.0 L420.0,255.0 M400.0,200.0 L410.0,230.0 L405.0,255.0 M420.0,190.0 L430.0,215.0 L450.0,222.0 M380.0,205.0 L400.0,200.0 L425.0,190.0 L440.0,200.0 M430.0,230.0 L450.0,250.0 L470.0,255.0 M400.0,262.0 L398.0,280.0 L410.0,296.0 M440.0,262.0 L470.0,280.0 L480.0,296.0 M420.0,272.0 L430.0,296.0 M450.0,296.0 L455.0,275.0 M300.0,300.0 L310.0,330.0 M320.0,295.0 L330.0,335.0 M345.0,296.0 L350.0,340.0 M365.0,296.0 L368.0,338.0 M405.0,300.0 L415.0,330.0 M420.0,297.0 L428.0,328.0 M435.0,297.0 L442.0,322.0 M395.0,315.0 L450.0,305.0 M394.0,325.0 L460.0,312.0 M300.0,350.0 L330.0,345.0 L360.0,350.0 L393.0,345.0 M295.0,365.0 L330.0,360.0 L394.0,358.0 M290.0,380.0 L330.0,375.0 L394.0,370.0 M330.0,345.0 L335.0,395.0 M355.0,342.0 L360.0,400.0 M375.0,340.0 L378.0,398.0 M400.0,345.0 L430.0,340.0 L450.0,348.0 M410.0,360.0 L440.0,372.0 L470.0,368.0 M440.0,372.0 L450.0,400.0 L440.0,412.0 M460.0,330.0 L475.0,350.0 L495.0,355.0 M420.0,395.0 L450.0,388.0 L480.0,395.0 L495.0,390.0 M262.0,330.0 L280.0,340.0 L300.0,332.0 M258.0,345.0 L285.0,352.0 L295.0,365.0 M255.0,365.0 L275.0,372.0 L290.0,380.0 M252.0,395.0 L275.0,392.0 L300.0,398.0 L314.0,416.0 M0.0,380.0 L20.0,372.0 L48.0,376.0 M10.0,395.0 L40.0,388.0 L64.0,392.0 M0.0,420.0 L30.0,408.0 L62.0,412.0 M28.0,370.0 L36.0,405.0 M50.0,378.0 L58.0,410.0 M80.0,392.0 L100.0,400.0 L122.0,398.0 M85.0,410.0 L110.0,418.0 M10.0,440.0 L30.0,475.0 L50.0,500.0 M0.0,480.0 L25.0,470.0 L55.0,460.0 M0.0,500.0 L30.0,490.0 L62.0,478.0 M15.0,455.0 L40.0,505.0 M40.0,445.0 L70.0,490.0 M60.0,440.0 L85.0,465.0 M70.0,430.0 L95.0,452.0 M85.0,425.0 L108.0,445.0 M0.0,545.0 L40.0,528.0 L75.0,512.0 M20.0,520.0 L35.0,552.0 M45.0,510.0 L60.0,545.0 M70.0,515.0 L80.0,545.0 M100.0,460.0 L125.0,480.0 L150.0,470.0 M110.0,445.0 L140.0,462.0 M125.0,480.0 L120.0,505.0 L135.0,518.0 M95.0,475.0 L115.0,500.0 L105.0,520.0 M75.0,495.0 L100.0,510.0 L117.0,537.0 M160.0,495.0 L180.0,510.0 L195.0,530.0 M145.0,505.0 L165.0,525.0 L180.0,545.0 M175.0,480.0 L195.0,500.0 M185.0,470.0 L205.0,488.0 M200.0,420.0 L225.0,430.0 L245.0,425.0 M195.0,440.0 L220.0,450.0 L248.0,445.0 M190.0,458.0 L215.0,468.0 L240.0,462.0 M215.0,405.0 L222.0,470.0 M235.0,408.0 L238.0,465.0 M215.0,500.0 L240.0,510.0 L262.0,500.0 M215.0,520.0 L245.0,528.0 L270.0,520.0 M235.0,487.0 L240.0,552.0 M262.0,430.0 L290.0,440.0 L317.0,425.0 M275.0,435.0 L280.0,470.0 L262.0,482.0 M280.0,470.0 L310.0,460.0 L330.0,440.0 M262.0,455.0 L285.0,450.0 M300.0,440.0 L305.0,480.0 L290.0,500.0 M305.0,480.0 L328.0,487.0 M281.0,520.0 L300.0,515.0 L310.0,535.0 M270.0,530.0 L285.0,545.0 M360.0,440.0 L390.0,432.0 L410.0,445.0 M370.0,455.0 L395.0,450.0 L415.0,462.0 M380.0,470.0 L400.0,480.0 L420.0,470.0 L440.0,480.0 M365.0,500.0 L390.0,495.0 L405.0,510.0 L430.0,505.0 M365.0,525.0 L400.0,520.0 L420.0,535.0 L450.0,540.0 M385.0,505.0 L390.0,550.0 M420.0,470.0 L425.0,520.0 M440.0,420.0 L455.0,450.0 L480.0,455.0 L495.0,445.0 M450.0,470.0 L470.0,490.0 L495.0,485.0 M445.0,505.0 L470.0,515.0 L495.0,510.0 M460.0,455.0 L465.0,540.0 M400.0,415.0 L420.0,425.0 L445.0,418.0 L470.0,430.0 M470.0,395.0 L480.0,420.0 L495.0,425.0 M360.0,535.0 L380.0,548.0 M325.0,500.0 L345.0,510.0 M300.0,540.0 L320.0,530.0 M5.0,600.0 L24.0,590.0 M0.0,640.0 L15.0,655.0 L24.0,650.0 M0.0,700.0 L20.0,690.0 M470.0,600.0 L495.0,590.0 M470.0,640.0 L485.0,660.0 L495.0,655.0 M475.0,700.0 L495.0,720.0 M470.0,760.0 L495.0,750.0 M0.0,800.0 L40.0,805.0 L80.0,800.0 L120.0,812.0 M130.0,800.0 L200.0,808.0 L260.0,800.0 M280.0,798.0 L300.0,812.0 L312.0,818.0 M338.0,800.0 L352.0,812.0 L360.0,818.0 M60.0,812.0 L80.0,800.0 L110.0,798.0 M420.0,800.0 L460.0,810.0 L495.0,800.0 M60.0,800.0 L70.0,818.0 M160.0,800.0 L150.0,818.0 M240.0,798.0 L250.0,818.0 M350.0,805.0 L340.0,818.0 M440.0,800.0 L450.0,818.0" fill="none" stroke="#E8E4DB" stroke-width="2.2" stroke-linejoin="round" stroke-linecap="round"/>
<path d="M0.0,21.0 L25.0,12.0 L53.5,4.9 M10.0,60.0 L30.0,75.0 L44.0,90.0 M0.0,100.0 L20.0,110.0 L40.0,140.0 M20.0,150.0 L45.0,160.0 L64.0,162.0 M126.0,47.0 L150.0,55.0 L175.0,60.0 M130.0,72.0 L160.0,68.0 L185.0,80.0 M100.0,140.0 L112.0,152.0 L112.0,164.0 M142.0,142.0 L150.0,160.0 L165.0,170.0 M200.0,50.0 L215.0,70.0 L231.0,80.0 M205.0,100.0 L225.0,105.0 L236.0,113.0 M240.0,32.0 L262.0,40.0 L290.0,36.0 L300.0,50.0 M262.0,40.0 L262.0,52.0 M275.0,25.0 L280.0,50.0 M300.0,20.0 L330.0,28.0 L345.0,45.0 M420.0,20.0 L440.0,40.0 L455.0,60.0 M470.0,60.0 L480.0,80.0 L495.0,90.0 M440.0,100.0 L460.0,120.0 L480.0,125.0 M430.0,110.0 L440.0,130.0 M470.0,130.0 L495.0,150.0 M0.0,240.0 L30.0,225.0 L60.0,230.0 L85.0,215.0 M25.0,205.0 L45.0,235.0 L42.0,255.0 M40.0,200.0 L65.0,188.0 L80.0,196.0 M60.0,210.0 L100.0,195.0 M0.0,265.0 L30.0,250.0 L55.0,262.0 M70.0,175.0 L90.0,190.0 L85.0,205.0 M10.0,280.0 L40.0,300.0 L60.0,290.0 L95.0,300.0 L100.0,315.0 L80.0,325.0 L70.0,340.0 M20.0,300.0 L50.0,330.0 L90.0,345.0 M100.0,270.0 L120.0,285.0 L118.0,310.0 L125.0,318.0 M0.0,310.0 L40.0,320.0 L60.0,345.0 M100.0,340.0 L135.0,330.0 M105.0,350.0 L140.0,338.0 M110.0,330.0 L118.0,352.0 M120.0,326.0 L128.0,350.0 M176.0,230.0 L200.0,248.0 L212.0,260.0 M165.0,250.0 L190.0,255.0 M140.0,250.0 L150.0,262.0 L160.0,262.0 M165.0,262.0 L200.0,268.0 L220.0,285.0 M170.0,290.0 L190.0,300.0 L205.0,296.0 M160.0,300.0 L180.0,310.0 L190.0,325.0 M250.0,150.0 L270.0,152.0 M248.0,170.0 L270.0,172.0 M246.0,190.0 L268.0,192.0 M255.0,150.0 L252.0,215.0 M300.0,250.0 L320.0,268.0 M310.0,242.0 L332.0,262.0 M322.0,232.0 L345.0,252.0 M334.0,222.0 L352.0,240.0 M312.0,275.0 L335.0,292.0 M325.0,262.0 L350.0,280.0 L352.0,291.0 M358.0,228.0 L375.0,250.0 L372.0,275.0 L358.0,281.0 M375.0,250.0 L400.0,262.0 L420.0,255.0 M400.0,200.0 L410.0,230.0 L405.0,255.0 M420.0,190.0 L430.0,215.0 L450.0,222.0 M380.0,205.0 L400.0,200.0 L425.0,190.0 L440.0,200.0 M430.0,230.0 L450.0,250.0 L470.0,255.0 M400.0,262.0 L398.0,280.0 L410.0,296.0 M440.0,262.0 L470.0,280.0 L480.0,296.0 M420.0,272.0 L430.0,296.0 M450.0,296.0 L455.0,275.0 M300.0,300.0 L310.0,330.0 M320.0,295.0 L330.0,335.0 M345.0,296.0 L350.0,340.0 M365.0,296.0 L368.0,338.0 M405.0,300.0 L415.0,330.0 M420.0,297.0 L428.0,328.0 M435.0,297.0 L442.0,322.0 M395.0,315.0 L450.0,305.0 M394.0,325.0 L460.0,312.0 M300.0,350.0 L330.0,345.0 L360.0,350.0 L393.0,345.0 M295.0,365.0 L330.0,360.0 L394.0,358.0 M290.0,380.0 L330.0,375.0 L394.0,370.0 M330.0,345.0 L335.0,395.0 M355.0,342.0 L360.0,400.0 M375.0,340.0 L378.0,398.0 M400.0,345.0 L430.0,340.0 L450.0,348.0 M410.0,360.0 L440.0,372.0 L470.0,368.0 M440.0,372.0 L450.0,400.0 L440.0,412.0 M460.0,330.0 L475.0,350.0 L495.0,355.0 M420.0,395.0 L450.0,388.0 L480.0,395.0 L495.0,390.0 M262.0,330.0 L280.0,340.0 L300.0,332.0 M258.0,345.0 L285.0,352.0 L295.0,365.0 M255.0,365.0 L275.0,372.0 L290.0,380.0 M252.0,395.0 L275.0,392.0 L300.0,398.0 L314.0,416.0 M0.0,380.0 L20.0,372.0 L48.0,376.0 M10.0,395.0 L40.0,388.0 L64.0,392.0 M0.0,420.0 L30.0,408.0 L62.0,412.0 M28.0,370.0 L36.0,405.0 M50.0,378.0 L58.0,410.0 M80.0,392.0 L100.0,400.0 L122.0,398.0 M85.0,410.0 L110.0,418.0 M10.0,440.0 L30.0,475.0 L50.0,500.0 M0.0,480.0 L25.0,470.0 L55.0,460.0 M0.0,500.0 L30.0,490.0 L62.0,478.0 M15.0,455.0 L40.0,505.0 M40.0,445.0 L70.0,490.0 M60.0,440.0 L85.0,465.0 M70.0,430.0 L95.0,452.0 M85.0,425.0 L108.0,445.0 M0.0,545.0 L40.0,528.0 L75.0,512.0 M20.0,520.0 L35.0,552.0 M45.0,510.0 L60.0,545.0 M70.0,515.0 L80.0,545.0 M100.0,460.0 L125.0,480.0 L150.0,470.0 M110.0,445.0 L140.0,462.0 M125.0,480.0 L120.0,505.0 L135.0,518.0 M95.0,475.0 L115.0,500.0 L105.0,520.0 M75.0,495.0 L100.0,510.0 L117.0,537.0 M160.0,495.0 L180.0,510.0 L195.0,530.0 M145.0,505.0 L165.0,525.0 L180.0,545.0 M175.0,480.0 L195.0,500.0 M185.0,470.0 L205.0,488.0 M200.0,420.0 L225.0,430.0 L245.0,425.0 M195.0,440.0 L220.0,450.0 L248.0,445.0 M190.0,458.0 L215.0,468.0 L240.0,462.0 M215.0,405.0 L222.0,470.0 M235.0,408.0 L238.0,465.0 M215.0,500.0 L240.0,510.0 L262.0,500.0 M215.0,520.0 L245.0,528.0 L270.0,520.0 M235.0,487.0 L240.0,552.0 M262.0,430.0 L290.0,440.0 L317.0,425.0 M275.0,435.0 L280.0,470.0 L262.0,482.0 M280.0,470.0 L310.0,460.0 L330.0,440.0 M262.0,455.0 L285.0,450.0 M300.0,440.0 L305.0,480.0 L290.0,500.0 M305.0,480.0 L328.0,487.0 M281.0,520.0 L300.0,515.0 L310.0,535.0 M270.0,530.0 L285.0,545.0 M360.0,440.0 L390.0,432.0 L410.0,445.0 M370.0,455.0 L395.0,450.0 L415.0,462.0 M380.0,470.0 L400.0,480.0 L420.0,470.0 L440.0,480.0 M365.0,500.0 L390.0,495.0 L405.0,510.0 L430.0,505.0 M365.0,525.0 L400.0,520.0 L420.0,535.0 L450.0,540.0 M385.0,505.0 L390.0,550.0 M420.0,470.0 L425.0,520.0 M440.0,420.0 L455.0,450.0 L480.0,455.0 L495.0,445.0 M450.0,470.0 L470.0,490.0 L495.0,485.0 M445.0,505.0 L470.0,515.0 L495.0,510.0 M460.0,455.0 L465.0,540.0 M400.0,415.0 L420.0,425.0 L445.0,418.0 L470.0,430.0 M470.0,395.0 L480.0,420.0 L495.0,425.0 M360.0,535.0 L380.0,548.0 M325.0,500.0 L345.0,510.0 M300.0,540.0 L320.0,530.0 M5.0,600.0 L24.0,590.0 M0.0,640.0 L15.0,655.0 L24.0,650.0 M0.0,700.0 L20.0,690.0 M470.0,600.0 L495.0,590.0 M470.0,640.0 L485.0,660.0 L495.0,655.0 M475.0,700.0 L495.0,720.0 M470.0,760.0 L495.0,750.0 M0.0,800.0 L40.0,805.0 L80.0,800.0 L120.0,812.0 M130.0,800.0 L200.0,808.0 L260.0,800.0 M280.0,798.0 L300.0,812.0 L312.0,818.0 M338.0,800.0 L352.0,812.0 L360.0,818.0 M60.0,812.0 L80.0,800.0 L110.0,798.0 M420.0,800.0 L460.0,810.0 L495.0,800.0 M60.0,800.0 L70.0,818.0 M160.0,800.0 L150.0,818.0 M240.0,798.0 L250.0,818.0 M350.0,805.0 L340.0,818.0 M440.0,800.0 L450.0,818.0" fill="none" stroke="#FCFAF5" stroke-width="1.1" stroke-linejoin="round" stroke-linecap="round"/>
<path d="M94.0,1.6 C101.3,7.5 123.8,25.4 137.8,37.3 C151.9,49.2 166.1,63.0 178.3,73.0 C190.5,83.0 198.9,90.5 210.8,97.3 C222.8,104.0 241.5,110.0 250.0,113.5 C258.5,117.0 260.0,117.2 262.0,118.0" fill="none" stroke="#CFCDC8" stroke-width="1.6" stroke-linecap="round" stroke-linejoin="round"/>
<path d="M197.8,142.0 C200.8,139.1 209.4,129.0 215.6,124.8 C221.8,120.6 229.3,118.2 235.0,116.7 C240.7,115.2 245.5,115.8 250.0,116.0 C254.5,116.2 260.0,117.7 262.0,118.0" fill="none" stroke="#CFCDC8" stroke-width="1.5" stroke-linecap="round" stroke-linejoin="round"/>
<path d="M191.3,84.3 C192.7,87.0 197.5,94.3 199.4,100.5 C201.3,106.7 202.4,114.7 202.7,121.6 C203.0,128.5 201.3,138.6 201.0,142.0" fill="none" stroke="#CFCDC8" stroke-width="1.3" stroke-linecap="round" stroke-linejoin="round"/>
<path d="M202.7,135.0 C200.0,138.5 193.2,147.9 186.4,156.0 C179.6,164.1 168.8,173.6 162.1,183.6 C155.3,193.6 152.7,205.2 145.9,216.0 C139.2,226.8 129.7,240.9 121.6,248.5 C113.5,256.1 109.5,256.8 97.3,261.5 C85.1,266.2 59.4,273.4 48.6,277.0 C37.8,280.6 40.5,279.8 32.4,283.0 C24.3,286.2 5.4,293.8 0.0,296.0" fill="none" stroke="#CFCDC8" stroke-width="1.8" stroke-linecap="round" stroke-linejoin="round"/>
<path d="M116.7,163.4 C118.9,164.1 124.8,166.9 129.7,167.4 C134.6,167.9 140.5,168.2 145.9,166.6 C151.3,165.0 158.1,158.6 162.1,157.7 C166.1,156.8 168.8,160.4 170.2,161.0" fill="none" stroke="#CFCDC8" stroke-width="1.5" stroke-linecap="round" stroke-linejoin="round"/>
<path d="M220.0,97.5 C225.2,100.3 242.0,108.7 251.2,114.3 C260.4,119.9 269.5,124.3 275.1,131.1 C280.7,137.9 283.5,144.3 284.7,155.1 C285.9,165.9 284.3,183.8 282.3,195.8 C280.3,207.8 274.3,221.8 272.7,227.0" fill="none" stroke="#CFCDC8" stroke-width="1.6" stroke-linecap="round" stroke-linejoin="round"/>
<path d="M220.0,119.1 C224.0,118.7 237.0,116.2 244.0,116.7 C251.0,117.2 259.0,121.1 262.0,122.0" fill="none" stroke="#CFCDC8" stroke-width="1.4" stroke-linecap="round" stroke-linejoin="round"/>
<path d="M397.4,139.9 C390.9,144.2 367.7,159.3 358.5,165.8 C349.3,172.3 349.1,172.9 342.3,178.8 C335.6,184.8 326.1,193.9 318.0,201.5 C309.9,209.1 300.4,218.0 293.6,224.2 C286.8,230.4 282.7,234.2 277.4,238.8 C272.1,243.4 264.6,249.8 262.0,252.0" fill="none" stroke="#CFCDC8" stroke-width="1.8" stroke-linecap="round" stroke-linejoin="round"/>
<path d="M397.4,141.5 C397.9,143.1 401.7,146.1 400.6,151.2 C399.5,156.3 393.9,166.9 390.9,172.3 C387.9,177.7 386.3,179.8 382.8,183.6 C379.3,187.4 372.5,189.1 369.8,195.0 C367.1,200.9 368.5,213.9 366.6,219.3 C364.7,224.7 359.9,226.1 358.5,227.4" fill="none" stroke="#CFCDC8" stroke-width="1.8" stroke-linecap="round" stroke-linejoin="round"/>
<path d="M209.1,276.5 C204.0,277.3 187.5,278.9 178.3,281.3 C169.1,283.7 160.8,286.1 154.0,291.0 C147.2,295.9 141.3,303.2 137.8,310.5 C134.3,317.8 132.9,327.6 132.9,334.9 C132.9,342.2 137.0,351.1 137.8,354.3" fill="none" stroke="#CFCDC8" stroke-width="1.5" stroke-linecap="round" stroke-linejoin="round"/>
<path d="M210.8,291.0 C208.1,295.1 200.6,305.9 194.6,315.4 C188.6,324.9 180.0,336.8 175.1,347.8 C170.2,358.8 166.9,375.7 165.3,381.3" fill="none" stroke="#CFCDC8" stroke-width="1.5" stroke-linecap="round" stroke-linejoin="round"/>
<path d="M395.8,337.3 C403.1,340.7 423.0,351.4 439.5,357.5 C456.0,363.6 485.8,371.1 495.0,373.8" fill="none" stroke="#CFCDC8" stroke-width="1.5" stroke-linecap="round" stroke-linejoin="round"/>
<path d="M176.6,383.8 C178.8,385.2 185.6,389.5 190.0,392.0 C194.4,394.5 201.9,394.2 203.0,398.9 C204.1,403.6 199.2,413.8 196.7,420.3 C194.2,426.8 189.4,435.1 188.0,438.0" fill="none" stroke="#CFCDC8" stroke-width="1.5" stroke-linecap="round" stroke-linejoin="round"/>
<path d="M165.3,381.3 C164.0,384.2 161.3,392.4 157.7,398.9 C154.1,405.4 146.8,414.2 143.9,420.3 C141.0,426.4 140.2,431.3 140.2,435.3 C140.2,439.3 143.3,442.6 143.9,444.1" fill="none" stroke="#CFCDC8" stroke-width="1.5" stroke-linecap="round" stroke-linejoin="round"/>
<path d="M168.6,13.0 C167.5,15.4 166.4,23.6 162.1,27.6 C157.8,31.7 148.6,33.8 142.7,37.3 C136.8,40.8 130.8,44.8 126.5,48.6 C122.2,52.4 119.4,55.9 116.7,60.0 C114.0,64.1 112.4,66.8 110.2,73.0 C108.0,79.2 106.0,89.2 103.8,97.3 C101.6,105.4 99.2,114.1 97.3,121.6 C95.4,129.0 93.5,135.9 92.4,142.0 C91.4,148.1 91.2,155.3 91.0,158.0" fill="none" stroke="#EAE6DD" stroke-width="3.9" stroke-linecap="round" stroke-linejoin="round"/>
<path d="M358.5,228.2 C354.7,231.6 343.9,241.5 335.8,248.5 C327.7,255.5 317.2,263.4 309.9,270.0 C302.6,276.6 300.1,280.8 292.0,287.8 C283.9,294.8 269.0,306.0 261.2,312.2 C253.4,318.4 247.7,323.0 245.0,325.1" fill="none" stroke="#EAE6DD" stroke-width="3.6" stroke-linecap="round" stroke-linejoin="round"/>
<path d="M292.0,288.6 C300.4,289.3 326.4,291.5 342.3,292.7 C358.2,293.9 370.7,295.4 387.7,296.0 C404.7,296.6 430.3,293.6 444.4,296.0 C458.4,298.4 465.2,305.6 472.0,310.5 C478.8,315.4 481.2,320.5 485.0,325.1 C488.8,329.7 493.3,335.9 495.0,338.0" fill="none" stroke="#EAE6DD" stroke-width="3.6" stroke-linecap="round" stroke-linejoin="round"/>
<path d="M495.0,316.2 C492.5,317.7 490.6,317.1 480.0,325.1 C469.4,333.1 443.0,354.3 431.4,364.0 C419.8,373.7 416.3,377.8 410.4,383.5 C404.5,389.2 398.2,395.6 395.8,398.0" fill="none" stroke="#EAE6DD" stroke-width="3.4" stroke-linecap="round" stroke-linejoin="round"/>
<path d="M387.7,296.0 C388.2,299.2 389.8,308.9 390.9,315.4 C392.0,321.9 393.5,323.5 394.2,334.9 C394.9,346.2 394.7,372.7 395.0,383.5 C395.3,394.3 395.7,397.0 395.8,399.7" fill="none" stroke="#EAE6DD" stroke-width="3.4" stroke-linecap="round" stroke-linejoin="round"/>
<path d="M303.4,336.5 C309.9,337.3 327.3,341.6 342.3,341.3 C357.3,341.0 384.8,336.0 393.3,334.9" fill="none" stroke="#EAE6DD" stroke-width="3.1" stroke-linecap="round" stroke-linejoin="round"/>
<path d="M300.0,331.6 C294.9,336.5 276.3,352.2 269.3,360.8 C262.3,369.4 261.2,375.0 258.0,383.5 C254.8,392.0 251.2,406.5 249.9,412.0 C248.6,417.5 248.3,415.6 250.0,416.7 C251.7,417.8 258.1,416.4 260.1,418.4 C262.1,420.4 263.2,422.6 261.8,428.5 C260.4,434.4 253.7,447.3 251.7,453.7 C249.7,460.1 248.3,462.4 250.0,467.1 C251.7,471.9 257.0,476.3 261.8,482.2 C266.6,488.1 275.5,495.9 278.6,502.3 C281.7,508.7 278.2,513.0 280.2,520.8 C282.1,528.6 288.2,543.4 290.3,549.3 C292.4,555.2 292.6,554.9 293.0,556.0" fill="none" stroke="#EAE6DD" stroke-width="3.4" stroke-linecap="round" stroke-linejoin="round"/>
<path d="M290.3,549.3 C293.4,542.0 302.4,516.0 308.8,505.7 C315.2,495.4 323.9,493.3 328.9,487.2 C333.9,481.1 335.1,474.7 339.0,468.8 C342.9,462.9 351.3,457.6 352.4,452.0 C353.5,446.4 351.6,439.7 345.7,435.2 C339.8,430.7 324.1,425.9 317.1,425.1 C310.1,424.3 305.9,429.4 303.7,430.2" fill="none" stroke="#EAE6DD" stroke-width="3.3" stroke-linecap="round" stroke-linejoin="round"/>
<path d="M335.6,411.7 C338.4,413.1 348.5,416.2 352.4,420.1 C356.3,424.0 358.8,429.9 359.1,435.2 C359.4,440.5 355.2,443.6 354.1,452.0 C353.0,460.4 352.7,479.9 352.4,485.5" fill="none" stroke="#EAE6DD" stroke-width="3.1" stroke-linecap="round" stroke-linejoin="round"/>
<path d="M391.0,415.1 C390.4,418.2 392.4,425.4 387.6,433.5 C382.8,441.6 367.7,455.0 362.4,463.7 C357.1,472.4 356.0,481.3 355.7,485.5 C355.4,489.7 360.2,485.0 360.8,488.9 C361.4,492.8 358.6,502.9 359.1,509.0 C359.7,515.1 364.1,521.6 364.1,525.8 C364.1,530.0 361.1,532.2 359.1,534.2 C357.2,536.2 354.6,537.9 352.4,537.6 C350.2,537.3 347.7,535.6 345.7,532.5 C343.7,529.4 342.6,521.1 340.6,519.1 C338.6,517.1 335.3,517.7 333.9,520.8 C332.5,523.9 334.1,533.1 332.2,537.6 C330.2,542.1 325.1,545.1 322.2,547.7 C319.3,550.3 316.2,552.1 315.0,553.0" fill="none" stroke="#EAE6DD" stroke-width="3.3" stroke-linecap="round" stroke-linejoin="round"/>
<path d="M0.0,199.9 C2.2,198.0 6.2,193.1 13.0,188.5 C19.8,183.9 31.9,176.6 40.5,172.3 C49.1,168.0 59.5,164.5 64.9,162.6 C70.3,160.7 71.7,161.3 73.0,161.0" fill="none" stroke="#EAE6DD" stroke-width="3.6" stroke-linecap="round" stroke-linejoin="round"/>
<path d="M111.9,164.2 C112.2,168.2 112.7,182.0 113.5,188.5 C114.3,195.0 117.2,197.9 116.7,203.0 C116.2,208.1 113.4,213.3 110.2,219.3 C107.0,225.3 102.7,233.4 97.3,238.8 C91.9,244.2 82.1,247.4 77.8,251.7 C73.5,256.0 71.8,260.5 71.3,264.7 C70.8,268.9 73.1,272.8 74.6,277.0 C76.0,281.2 79.1,287.8 80.0,290.0" fill="none" stroke="#EAE6DD" stroke-width="3.1" stroke-linecap="round" stroke-linejoin="round"/>
<path d="M116.7,164.2 C117.2,168.2 117.0,184.4 120.0,188.5 C123.0,192.6 131.4,187.4 134.6,188.5 C137.8,189.6 138.9,190.4 139.4,195.0 C139.9,199.6 139.4,209.8 137.8,216.0 C136.2,222.2 133.8,226.4 129.7,232.3 C125.6,238.2 115.1,247.1 113.5,251.7 C111.9,256.3 115.4,257.1 120.0,259.8 C124.6,262.5 134.4,265.6 141.0,268.0 C147.6,270.4 156.6,273.3 159.7,274.4" fill="none" stroke="#EAE6DD" stroke-width="3.1" stroke-linecap="round" stroke-linejoin="round"/>
<path d="M137.8,356.0 C133.8,357.6 124.3,360.8 113.5,365.7 C102.7,370.6 80.0,379.4 73.0,385.1 C66.0,390.8 72.6,395.2 71.3,399.7 C70.0,404.2 66.5,406.9 64.9,412.0 C63.4,417.1 62.5,427.0 62.0,430.0" fill="none" stroke="#EAE6DD" stroke-width="3.6" stroke-linecap="round" stroke-linejoin="round"/>
<path d="M73.0,385.1 C68.9,383.5 58.1,378.6 48.6,375.4 C39.1,372.2 24.3,368.1 16.2,365.7 C8.1,363.3 2.7,361.6 0.0,360.8" fill="none" stroke="#EAE6DD" stroke-width="3.3" stroke-linecap="round" stroke-linejoin="round"/>
<path d="M0.0,325.0 C2.7,325.8 7.3,324.0 16.2,330.0 C25.1,336.0 44.6,353.0 53.5,360.8 C62.4,368.6 66.5,372.9 69.7,377.0 C73.0,381.1 72.5,383.8 73.0,385.1" fill="none" stroke="#EAE6DD" stroke-width="3.1" stroke-linecap="round" stroke-linejoin="round"/>
<path d="M0.0,462.0 C7.0,458.9 28.5,449.5 41.9,443.6 C55.3,437.7 69.6,430.4 80.5,426.8 C91.4,423.2 100.7,423.8 107.4,421.8 C114.1,419.8 118.6,416.1 120.8,415.0" fill="none" stroke="#EAE6DD" stroke-width="3.6" stroke-linecap="round" stroke-linejoin="round"/>
<path d="M0.0,524.1 C5.0,522.1 19.9,516.9 30.2,512.4 C40.5,507.9 56.8,499.8 62.1,497.3" fill="none" stroke="#EAE6DD" stroke-width="3.4" stroke-linecap="round" stroke-linejoin="round"/>
<path d="M26.8,405.0 C29.3,410.6 37.1,429.4 41.9,438.6 C46.7,447.8 50.1,453.4 55.4,460.4 C60.7,467.4 70.7,477.1 73.8,480.5" fill="none" stroke="#EAE6DD" stroke-width="3.1" stroke-linecap="round" stroke-linejoin="round"/>
<path d="M174.5,470.4 C178.4,472.9 191.6,480.5 198.0,485.5 C204.4,490.5 210.3,489.5 213.1,500.6 C215.9,511.7 214.5,543.4 214.8,552.0" fill="none" stroke="#EAE6DD" stroke-width="3.6" stroke-linecap="round" stroke-linejoin="round"/>
<path d="M213.1,500.6 C216.7,498.1 228.8,490.8 234.9,485.5 C241.1,480.2 247.5,471.6 250.0,468.8" fill="none" stroke="#EAE6DD" stroke-width="3.3" stroke-linecap="round" stroke-linejoin="round"/>
<path d="M231.5,48.6 C231.8,54.0 232.8,70.5 233.5,81.0 C234.2,91.5 235.0,98.7 235.6,111.9 C236.2,125.1 236.6,142.0 237.0,160.0 C237.4,178.0 237.8,209.8 238.0,219.8" fill="none" stroke="#EAE6DD" stroke-width="3.4" stroke-linecap="round" stroke-linejoin="round"/>
<path d="M233.5,43.8 C234.6,41.9 237.2,35.1 240.0,32.4 C242.8,29.7 241.7,30.0 250.0,27.6 C258.3,25.2 276.7,21.3 290.0,18.0 C303.3,14.7 323.3,9.7 330.0,8.0" fill="none" stroke="#EAE6DD" stroke-width="3.3" stroke-linecap="round" stroke-linejoin="round"/>
<path d="M173.5,84.3 C173.2,86.5 172.7,92.4 171.9,97.3 C171.1,102.2 171.3,108.6 168.6,113.5 C165.9,118.4 159.4,123.0 155.6,126.5 C151.8,130.0 148.1,132.0 145.9,134.6 C143.8,137.2 143.5,139.4 142.7,142.0 C141.9,144.6 141.3,148.7 141.0,150.0" fill="none" stroke="#EAE6DD" stroke-width="3.4" stroke-linecap="round" stroke-linejoin="round"/>
<path d="M412.0,24.3 C413.3,27.8 417.3,38.6 420.0,45.4 C422.7,52.2 426.3,59.5 428.2,64.9 C430.1,70.3 430.9,75.7 431.4,77.8" fill="none" stroke="#EAE6DD" stroke-width="3.3" stroke-linecap="round" stroke-linejoin="round"/>
<path d="M395.8,58.4 C398.5,55.3 406.6,44.9 412.0,40.0 C417.4,35.1 421.9,33.9 428.2,29.2 C434.5,24.5 444.4,16.9 450.0,12.0 C455.6,7.1 460.0,2.0 462.0,0.0" fill="none" stroke="#EAE6DD" stroke-width="3.4" stroke-linecap="round" stroke-linejoin="round"/>
<path d="M455.8,211.2 C458.5,215.3 465.5,225.7 472.0,236.0 C478.5,246.3 491.2,266.7 495.0,272.8" fill="none" stroke="#EAE6DD" stroke-width="3.3" stroke-linecap="round" stroke-linejoin="round"/>
<path d="M436.3,143.1 C439.0,145.0 446.9,149.2 452.5,154.5 C458.1,159.8 464.8,169.8 470.0,175.0 C475.2,180.2 481.7,184.2 484.0,186.0" fill="none" stroke="#EAE6DD" stroke-width="3.3" stroke-linecap="round" stroke-linejoin="round"/>
<path d="M428.2,84.3 C431.0,83.6 438.0,77.7 445.0,80.0 C452.0,82.3 461.7,93.0 470.0,98.0 C478.3,103.0 490.8,108.0 495.0,110.0" fill="none" stroke="#EAE6DD" stroke-width="3.4" stroke-linecap="round" stroke-linejoin="round"/>
<path d="M271.0,135.0 L279.0,144.7" fill="none" stroke="#EAE6DD" stroke-width="3.1" stroke-linecap="round" stroke-linejoin="round"/>
<path d="M117.4,413.4 C118.1,415.4 117.3,420.4 121.3,425.3 C125.3,430.2 136.0,438.9 141.4,442.9 C146.8,446.9 149.6,446.8 154.0,449.1 C158.4,451.4 164.2,454.0 167.8,456.7 C171.4,459.4 174.1,464.0 175.3,465.5" fill="none" stroke="#EAE6DD" stroke-width="3.8" stroke-linecap="round" stroke-linejoin="round"/>
<path d="M241.9,370.0 C241.5,376.3 239.4,396.8 239.4,407.7 C239.4,418.6 243.4,423.2 241.9,435.3 C240.4,447.4 232.5,472.6 230.6,480.0" fill="none" stroke="#EAE6DD" stroke-width="2.9" stroke-linecap="round" stroke-linejoin="round"/>
<path d="M267.0,370.0 C264.3,377.3 254.9,403.1 250.7,414.0 C246.5,424.9 243.4,431.8 241.9,435.3" fill="none" stroke="#EAE6DD" stroke-width="2.9" stroke-linecap="round" stroke-linejoin="round"/>
<path d="M250.7,414.0 C252.4,414.6 258.8,415.6 260.8,417.7 C262.8,419.8 264.1,419.8 262.6,426.5 C261.1,433.2 253.3,449.1 252.0,458.0 C250.7,466.9 254.1,476.3 254.5,480.0" fill="none" stroke="#EAE6DD" stroke-width="2.9" stroke-linecap="round" stroke-linejoin="round"/>
<path d="M134.2,519.1 C136.8,521.8 144.9,529.5 150.0,535.0 C155.1,540.5 162.5,549.2 165.0,552.0" fill="none" stroke="#EAE6DD" stroke-width="3.3" stroke-linecap="round" stroke-linejoin="round"/>
<path d="M165.4,-2.0 C166.2,-0.1 166.7,5.0 170.2,9.7 C173.7,14.3 182.3,20.5 186.4,25.9 C190.5,31.3 192.8,36.2 194.6,42.2 C196.4,48.2 197.8,55.7 197.0,61.6 C196.2,67.5 192.0,72.9 189.7,77.8 C187.4,82.7 184.8,84.8 183.2,90.8 C181.6,96.8 180.9,105.6 180.0,113.5 C179.1,121.4 178.9,127.7 178.0,138.0 C177.1,148.3 175.6,162.5 174.3,175.5 C173.0,188.5 172.0,203.8 170.2,216.0 C168.4,228.2 165.4,238.3 163.7,248.5 C161.9,258.7 160.6,268.0 159.7,277.0 C158.8,286.0 159.0,293.3 158.1,302.4 C157.2,311.5 156.0,323.7 154.0,331.6 C152.0,339.5 149.2,344.6 146.0,350.0 C142.8,355.4 137.8,358.4 134.6,364.0 C131.3,369.6 128.3,376.7 126.5,383.5 C124.7,390.3 124.7,399.2 124.0,405.0 C123.3,410.8 125.3,413.1 122.5,418.4 C119.7,423.7 112.7,430.2 107.4,436.9 C102.1,443.6 96.2,451.4 90.6,458.7 C85.0,466.0 78.5,474.1 73.8,480.5 C69.0,486.9 63.2,492.0 62.1,497.3 C61.0,502.6 62.6,505.7 67.1,512.4 C71.6,519.1 83.9,531.0 88.9,537.6 C93.9,544.2 95.9,549.6 97.3,552.0" fill="none" stroke="#E6E2DA" stroke-width="5.2" stroke-linecap="round" stroke-linejoin="round"/>
<path d="M88.0,-2.0 C89.5,-1.4 93.0,0.4 97.3,1.6 C101.5,2.8 106.8,4.1 113.5,4.9 C120.2,5.7 129.7,5.8 137.8,6.5 C145.9,7.2 155.2,6.7 162.0,8.9 C168.8,11.1 172.9,15.6 178.3,19.5 C183.7,23.4 187.8,28.3 194.6,32.4 C201.4,36.4 212.2,40.8 218.9,43.8 C225.6,46.8 229.8,48.5 235.0,50.3 C240.2,52.0 242.9,53.4 250.0,54.3 C257.1,55.2 266.9,55.8 277.4,55.9 C287.9,56.0 303.4,56.3 313.1,55.1 C322.8,53.9 325.5,50.0 335.8,48.6 C346.1,47.2 365.5,46.2 374.7,47.0 C383.9,47.8 384.7,48.9 390.9,53.5 C397.1,58.1 407.7,70.0 412.0,74.6 C416.3,79.2 416.1,79.9 416.9,81.0" fill="none" stroke="#E6E2DA" stroke-width="5.0" stroke-linecap="round" stroke-linejoin="round"/>
<path d="M414.0,76.0 C413.6,76.4 415.4,74.4 411.8,78.4 C408.2,82.4 396.6,93.9 392.6,99.9 C388.6,105.9 387.8,109.1 387.8,114.3 C387.8,119.5 390.2,125.5 392.6,131.1 C395.0,136.7 399.4,142.7 402.2,147.9 C405.0,153.1 408.2,159.9 409.4,162.3" fill="none" stroke="#E6E2DA" stroke-width="5.4" stroke-linecap="round" stroke-linejoin="round"/>
<path d="M355.2,205.5 C353.1,206.7 347.4,209.4 342.3,212.8 C337.2,216.2 329.8,221.2 324.4,225.8 C319.0,230.4 315.6,234.5 309.9,240.4 C304.2,246.3 295.8,256.1 290.4,261.5 C285.0,266.9 283.3,267.2 277.4,272.8 C271.5,278.4 260.1,289.6 255.0,295.0 C249.8,300.4 250.1,301.1 246.5,305.0 C242.9,308.9 236.8,311.7 233.5,318.6 C230.2,325.5 228.8,337.6 227.0,346.2 C225.2,354.8 225.8,362.9 223.0,370.0 C220.2,377.1 213.4,383.8 210.5,388.8 C207.6,393.8 208.8,392.4 205.5,400.2 C202.2,407.9 194.6,425.9 190.4,435.3 C186.2,444.7 182.9,450.8 180.4,456.7 C177.9,462.6 179.6,464.3 175.3,470.5 C171.0,476.7 161.2,485.8 154.4,493.9 C147.6,502.0 140.4,511.8 134.2,519.1 C128.0,526.4 122.4,532.1 117.4,537.6 C112.4,543.1 106.2,549.6 104.0,552.0" fill="none" stroke="#E6E2DA" stroke-width="5.1" stroke-linecap="round" stroke-linejoin="round"/>
<path d="M395.8,171.5 C398.2,169.8 403.9,165.6 410.4,161.0 C416.9,156.4 428.8,148.4 434.7,143.9 C440.6,139.4 444.1,135.7 446.0,134.0" fill="none" stroke="#E6E2DA" stroke-width="5.6" stroke-linecap="round" stroke-linejoin="round"/>
<path d="M150.0,368.0 C152.3,369.2 158.9,372.4 164.0,375.0 C169.1,377.6 174.7,380.9 180.4,383.8 C186.1,386.7 193.0,390.5 198.0,392.6 C203.0,394.7 206.3,394.5 210.5,396.4 C214.7,398.3 216.8,401.0 223.1,403.9 C229.4,406.8 240.9,410.6 248.2,414.0 C255.5,417.4 260.4,423.0 266.8,424.3 C273.2,425.6 280.8,420.8 286.9,421.8 C293.0,422.8 300.9,428.8 303.7,430.2" fill="none" stroke="#E6E2DA" stroke-width="5.2" stroke-linecap="round" stroke-linejoin="round"/>
<path d="M314.6,416.7 C318.7,415.6 331.7,412.0 339.0,410.0 C346.3,408.0 349.0,406.3 358.5,404.6 C368.0,402.9 389.6,400.5 395.8,399.7" fill="none" stroke="#E6E2DA" stroke-width="5.4" stroke-linecap="round" stroke-linejoin="round"/>
<path d="M168.6,13.0 C167.5,15.4 166.4,23.6 162.1,27.6 C157.8,31.7 148.6,33.8 142.7,37.3 C136.8,40.8 130.8,44.8 126.5,48.6 C122.2,52.4 119.4,55.9 116.7,60.0 C114.0,64.1 112.4,66.8 110.2,73.0 C108.0,79.2 106.0,89.2 103.8,97.3 C101.6,105.4 99.2,114.1 97.3,121.6 C95.4,129.0 93.5,135.9 92.4,142.0 C91.4,148.1 91.2,155.3 91.0,158.0" fill="none" stroke="#FFFFFF" stroke-width="2.5" stroke-linecap="round" stroke-linejoin="round"/>
<path d="M358.5,228.2 C354.7,231.6 343.9,241.5 335.8,248.5 C327.7,255.5 317.2,263.4 309.9,270.0 C302.6,276.6 300.1,280.8 292.0,287.8 C283.9,294.8 269.0,306.0 261.2,312.2 C253.4,318.4 247.7,323.0 245.0,325.1" fill="none" stroke="#FFFFFF" stroke-width="2.2" stroke-linecap="round" stroke-linejoin="round"/>
<path d="M292.0,288.6 C300.4,289.3 326.4,291.5 342.3,292.7 C358.2,293.9 370.7,295.4 387.7,296.0 C404.7,296.6 430.3,293.6 444.4,296.0 C458.4,298.4 465.2,305.6 472.0,310.5 C478.8,315.4 481.2,320.5 485.0,325.1 C488.8,329.7 493.3,335.9 495.0,338.0" fill="none" stroke="#FFFFFF" stroke-width="2.2" stroke-linecap="round" stroke-linejoin="round"/>
<path d="M495.0,316.2 C492.5,317.7 490.6,317.1 480.0,325.1 C469.4,333.1 443.0,354.3 431.4,364.0 C419.8,373.7 416.3,377.8 410.4,383.5 C404.5,389.2 398.2,395.6 395.8,398.0" fill="none" stroke="#FFFFFF" stroke-width="2.0" stroke-linecap="round" stroke-linejoin="round"/>
<path d="M387.7,296.0 C388.2,299.2 389.8,308.9 390.9,315.4 C392.0,321.9 393.5,323.5 394.2,334.9 C394.9,346.2 394.7,372.7 395.0,383.5 C395.3,394.3 395.7,397.0 395.8,399.7" fill="none" stroke="#FFFFFF" stroke-width="2.0" stroke-linecap="round" stroke-linejoin="round"/>
<path d="M303.4,336.5 C309.9,337.3 327.3,341.6 342.3,341.3 C357.3,341.0 384.8,336.0 393.3,334.9" fill="none" stroke="#FFFFFF" stroke-width="1.7" stroke-linecap="round" stroke-linejoin="round"/>
<path d="M300.0,331.6 C294.9,336.5 276.3,352.2 269.3,360.8 C262.3,369.4 261.2,375.0 258.0,383.5 C254.8,392.0 251.2,406.5 249.9,412.0 C248.6,417.5 248.3,415.6 250.0,416.7 C251.7,417.8 258.1,416.4 260.1,418.4 C262.1,420.4 263.2,422.6 261.8,428.5 C260.4,434.4 253.7,447.3 251.7,453.7 C249.7,460.1 248.3,462.4 250.0,467.1 C251.7,471.9 257.0,476.3 261.8,482.2 C266.6,488.1 275.5,495.9 278.6,502.3 C281.7,508.7 278.2,513.0 280.2,520.8 C282.1,528.6 288.2,543.4 290.3,549.3 C292.4,555.2 292.6,554.9 293.0,556.0" fill="none" stroke="#FFFFFF" stroke-width="2.0" stroke-linecap="round" stroke-linejoin="round"/>
<path d="M290.3,549.3 C293.4,542.0 302.4,516.0 308.8,505.7 C315.2,495.4 323.9,493.3 328.9,487.2 C333.9,481.1 335.1,474.7 339.0,468.8 C342.9,462.9 351.3,457.6 352.4,452.0 C353.5,446.4 351.6,439.7 345.7,435.2 C339.8,430.7 324.1,425.9 317.1,425.1 C310.1,424.3 305.9,429.4 303.7,430.2" fill="none" stroke="#FFFFFF" stroke-width="1.9" stroke-linecap="round" stroke-linejoin="round"/>
<path d="M335.6,411.7 C338.4,413.1 348.5,416.2 352.4,420.1 C356.3,424.0 358.8,429.9 359.1,435.2 C359.4,440.5 355.2,443.6 354.1,452.0 C353.0,460.4 352.7,479.9 352.4,485.5" fill="none" stroke="#FFFFFF" stroke-width="1.7" stroke-linecap="round" stroke-linejoin="round"/>
<path d="M391.0,415.1 C390.4,418.2 392.4,425.4 387.6,433.5 C382.8,441.6 367.7,455.0 362.4,463.7 C357.1,472.4 356.0,481.3 355.7,485.5 C355.4,489.7 360.2,485.0 360.8,488.9 C361.4,492.8 358.6,502.9 359.1,509.0 C359.7,515.1 364.1,521.6 364.1,525.8 C364.1,530.0 361.1,532.2 359.1,534.2 C357.2,536.2 354.6,537.9 352.4,537.6 C350.2,537.3 347.7,535.6 345.7,532.5 C343.7,529.4 342.6,521.1 340.6,519.1 C338.6,517.1 335.3,517.7 333.9,520.8 C332.5,523.9 334.1,533.1 332.2,537.6 C330.2,542.1 325.1,545.1 322.2,547.7 C319.3,550.3 316.2,552.1 315.0,553.0" fill="none" stroke="#FFFFFF" stroke-width="1.9" stroke-linecap="round" stroke-linejoin="round"/>
<path d="M0.0,199.9 C2.2,198.0 6.2,193.1 13.0,188.5 C19.8,183.9 31.9,176.6 40.5,172.3 C49.1,168.0 59.5,164.5 64.9,162.6 C70.3,160.7 71.7,161.3 73.0,161.0" fill="none" stroke="#FFFFFF" stroke-width="2.2" stroke-linecap="round" stroke-linejoin="round"/>
<path d="M111.9,164.2 C112.2,168.2 112.7,182.0 113.5,188.5 C114.3,195.0 117.2,197.9 116.7,203.0 C116.2,208.1 113.4,213.3 110.2,219.3 C107.0,225.3 102.7,233.4 97.3,238.8 C91.9,244.2 82.1,247.4 77.8,251.7 C73.5,256.0 71.8,260.5 71.3,264.7 C70.8,268.9 73.1,272.8 74.6,277.0 C76.0,281.2 79.1,287.8 80.0,290.0" fill="none" stroke="#FFFFFF" stroke-width="1.7" stroke-linecap="round" stroke-linejoin="round"/>
<path d="M116.7,164.2 C117.2,168.2 117.0,184.4 120.0,188.5 C123.0,192.6 131.4,187.4 134.6,188.5 C137.8,189.6 138.9,190.4 139.4,195.0 C139.9,199.6 139.4,209.8 137.8,216.0 C136.2,222.2 133.8,226.4 129.7,232.3 C125.6,238.2 115.1,247.1 113.5,251.7 C111.9,256.3 115.4,257.1 120.0,259.8 C124.6,262.5 134.4,265.6 141.0,268.0 C147.6,270.4 156.6,273.3 159.7,274.4" fill="none" stroke="#FFFFFF" stroke-width="1.7" stroke-linecap="round" stroke-linejoin="round"/>
<path d="M137.8,356.0 C133.8,357.6 124.3,360.8 113.5,365.7 C102.7,370.6 80.0,379.4 73.0,385.1 C66.0,390.8 72.6,395.2 71.3,399.7 C70.0,404.2 66.5,406.9 64.9,412.0 C63.4,417.1 62.5,427.0 62.0,430.0" fill="none" stroke="#FFFFFF" stroke-width="2.2" stroke-linecap="round" stroke-linejoin="round"/>
<path d="M73.0,385.1 C68.9,383.5 58.1,378.6 48.6,375.4 C39.1,372.2 24.3,368.1 16.2,365.7 C8.1,363.3 2.7,361.6 0.0,360.8" fill="none" stroke="#FFFFFF" stroke-width="1.9" stroke-linecap="round" stroke-linejoin="round"/>
<path d="M0.0,325.0 C2.7,325.8 7.3,324.0 16.2,330.0 C25.1,336.0 44.6,353.0 53.5,360.8 C62.4,368.6 66.5,372.9 69.7,377.0 C73.0,381.1 72.5,383.8 73.0,385.1" fill="none" stroke="#FFFFFF" stroke-width="1.7" stroke-linecap="round" stroke-linejoin="round"/>
<path d="M0.0,462.0 C7.0,458.9 28.5,449.5 41.9,443.6 C55.3,437.7 69.6,430.4 80.5,426.8 C91.4,423.2 100.7,423.8 107.4,421.8 C114.1,419.8 118.6,416.1 120.8,415.0" fill="none" stroke="#FFFFFF" stroke-width="2.2" stroke-linecap="round" stroke-linejoin="round"/>
<path d="M0.0,524.1 C5.0,522.1 19.9,516.9 30.2,512.4 C40.5,507.9 56.8,499.8 62.1,497.3" fill="none" stroke="#FFFFFF" stroke-width="2.0" stroke-linecap="round" stroke-linejoin="round"/>
<path d="M26.8,405.0 C29.3,410.6 37.1,429.4 41.9,438.6 C46.7,447.8 50.1,453.4 55.4,460.4 C60.7,467.4 70.7,477.1 73.8,480.5" fill="none" stroke="#FFFFFF" stroke-width="1.7" stroke-linecap="round" stroke-linejoin="round"/>
<path d="M174.5,470.4 C178.4,472.9 191.6,480.5 198.0,485.5 C204.4,490.5 210.3,489.5 213.1,500.6 C215.9,511.7 214.5,543.4 214.8,552.0" fill="none" stroke="#FFFFFF" stroke-width="2.2" stroke-linecap="round" stroke-linejoin="round"/>
<path d="M213.1,500.6 C216.7,498.1 228.8,490.8 234.9,485.5 C241.1,480.2 247.5,471.6 250.0,468.8" fill="none" stroke="#FFFFFF" stroke-width="1.9" stroke-linecap="round" stroke-linejoin="round"/>
<path d="M231.5,48.6 C231.8,54.0 232.8,70.5 233.5,81.0 C234.2,91.5 235.0,98.7 235.6,111.9 C236.2,125.1 236.6,142.0 237.0,160.0 C237.4,178.0 237.8,209.8 238.0,219.8" fill="none" stroke="#FFFFFF" stroke-width="2.0" stroke-linecap="round" stroke-linejoin="round"/>
<path d="M233.5,43.8 C234.6,41.9 237.2,35.1 240.0,32.4 C242.8,29.7 241.7,30.0 250.0,27.6 C258.3,25.2 276.7,21.3 290.0,18.0 C303.3,14.7 323.3,9.7 330.0,8.0" fill="none" stroke="#FFFFFF" stroke-width="1.9" stroke-linecap="round" stroke-linejoin="round"/>
<path d="M173.5,84.3 C173.2,86.5 172.7,92.4 171.9,97.3 C171.1,102.2 171.3,108.6 168.6,113.5 C165.9,118.4 159.4,123.0 155.6,126.5 C151.8,130.0 148.1,132.0 145.9,134.6 C143.8,137.2 143.5,139.4 142.7,142.0 C141.9,144.6 141.3,148.7 141.0,150.0" fill="none" stroke="#FFFFFF" stroke-width="2.0" stroke-linecap="round" stroke-linejoin="round"/>
<path d="M412.0,24.3 C413.3,27.8 417.3,38.6 420.0,45.4 C422.7,52.2 426.3,59.5 428.2,64.9 C430.1,70.3 430.9,75.7 431.4,77.8" fill="none" stroke="#FFFFFF" stroke-width="1.9" stroke-linecap="round" stroke-linejoin="round"/>
<path d="M395.8,58.4 C398.5,55.3 406.6,44.9 412.0,40.0 C417.4,35.1 421.9,33.9 428.2,29.2 C434.5,24.5 444.4,16.9 450.0,12.0 C455.6,7.1 460.0,2.0 462.0,0.0" fill="none" stroke="#FFFFFF" stroke-width="2.0" stroke-linecap="round" stroke-linejoin="round"/>
<path d="M455.8,211.2 C458.5,215.3 465.5,225.7 472.0,236.0 C478.5,246.3 491.2,266.7 495.0,272.8" fill="none" stroke="#FFFFFF" stroke-width="1.9" stroke-linecap="round" stroke-linejoin="round"/>
<path d="M436.3,143.1 C439.0,145.0 446.9,149.2 452.5,154.5 C458.1,159.8 464.8,169.8 470.0,175.0 C475.2,180.2 481.7,184.2 484.0,186.0" fill="none" stroke="#FFFFFF" stroke-width="1.9" stroke-linecap="round" stroke-linejoin="round"/>
<path d="M428.2,84.3 C431.0,83.6 438.0,77.7 445.0,80.0 C452.0,82.3 461.7,93.0 470.0,98.0 C478.3,103.0 490.8,108.0 495.0,110.0" fill="none" stroke="#FFFFFF" stroke-width="2.0" stroke-linecap="round" stroke-linejoin="round"/>
<path d="M271.0,135.0 L279.0,144.7" fill="none" stroke="#FFFFFF" stroke-width="1.7" stroke-linecap="round" stroke-linejoin="round"/>
<path d="M117.4,413.4 C118.1,415.4 117.3,420.4 121.3,425.3 C125.3,430.2 136.0,438.9 141.4,442.9 C146.8,446.9 149.6,446.8 154.0,449.1 C158.4,451.4 164.2,454.0 167.8,456.7 C171.4,459.4 174.1,464.0 175.3,465.5" fill="none" stroke="#FFFFFF" stroke-width="2.4" stroke-linecap="round" stroke-linejoin="round"/>
<path d="M241.9,370.0 C241.5,376.3 239.4,396.8 239.4,407.7 C239.4,418.6 243.4,423.2 241.9,435.3 C240.4,447.4 232.5,472.6 230.6,480.0" fill="none" stroke="#FFFFFF" stroke-width="1.5" stroke-linecap="round" stroke-linejoin="round"/>
<path d="M267.0,370.0 C264.3,377.3 254.9,403.1 250.7,414.0 C246.5,424.9 243.4,431.8 241.9,435.3" fill="none" stroke="#FFFFFF" stroke-width="1.5" stroke-linecap="round" stroke-linejoin="round"/>
<path d="M250.7,414.0 C252.4,414.6 258.8,415.6 260.8,417.7 C262.8,419.8 264.1,419.8 262.6,426.5 C261.1,433.2 253.3,449.1 252.0,458.0 C250.7,466.9 254.1,476.3 254.5,480.0" fill="none" stroke="#FFFFFF" stroke-width="1.5" stroke-linecap="round" stroke-linejoin="round"/>
<path d="M134.2,519.1 C136.8,521.8 144.9,529.5 150.0,535.0 C155.1,540.5 162.5,549.2 165.0,552.0" fill="none" stroke="#FFFFFF" stroke-width="1.9" stroke-linecap="round" stroke-linejoin="round"/>
<path d="M165.4,-2.0 C166.2,-0.1 166.7,5.0 170.2,9.7 C173.7,14.3 182.3,20.5 186.4,25.9 C190.5,31.3 192.8,36.2 194.6,42.2 C196.4,48.2 197.8,55.7 197.0,61.6 C196.2,67.5 192.0,72.9 189.7,77.8 C187.4,82.7 184.8,84.8 183.2,90.8 C181.6,96.8 180.9,105.6 180.0,113.5 C179.1,121.4 178.9,127.7 178.0,138.0 C177.1,148.3 175.6,162.5 174.3,175.5 C173.0,188.5 172.0,203.8 170.2,216.0 C168.4,228.2 165.4,238.3 163.7,248.5 C161.9,258.7 160.6,268.0 159.7,277.0 C158.8,286.0 159.0,293.3 158.1,302.4 C157.2,311.5 156.0,323.7 154.0,331.6 C152.0,339.5 149.2,344.6 146.0,350.0 C142.8,355.4 137.8,358.4 134.6,364.0 C131.3,369.6 128.3,376.7 126.5,383.5 C124.7,390.3 124.7,399.2 124.0,405.0 C123.3,410.8 125.3,413.1 122.5,418.4 C119.7,423.7 112.7,430.2 107.4,436.9 C102.1,443.6 96.2,451.4 90.6,458.7 C85.0,466.0 78.5,474.1 73.8,480.5 C69.0,486.9 63.2,492.0 62.1,497.3 C61.0,502.6 62.6,505.7 67.1,512.4 C71.6,519.1 83.9,531.0 88.9,537.6 C93.9,544.2 95.9,549.6 97.3,552.0" fill="none" stroke="#FFFFFF" stroke-width="3.6" stroke-linecap="round" stroke-linejoin="round"/>
<path d="M88.0,-2.0 C89.5,-1.4 93.0,0.4 97.3,1.6 C101.5,2.8 106.8,4.1 113.5,4.9 C120.2,5.7 129.7,5.8 137.8,6.5 C145.9,7.2 155.2,6.7 162.0,8.9 C168.8,11.1 172.9,15.6 178.3,19.5 C183.7,23.4 187.8,28.3 194.6,32.4 C201.4,36.4 212.2,40.8 218.9,43.8 C225.6,46.8 229.8,48.5 235.0,50.3 C240.2,52.0 242.9,53.4 250.0,54.3 C257.1,55.2 266.9,55.8 277.4,55.9 C287.9,56.0 303.4,56.3 313.1,55.1 C322.8,53.9 325.5,50.0 335.8,48.6 C346.1,47.2 365.5,46.2 374.7,47.0 C383.9,47.8 384.7,48.9 390.9,53.5 C397.1,58.1 407.7,70.0 412.0,74.6 C416.3,79.2 416.1,79.9 416.9,81.0" fill="none" stroke="#FFFFFF" stroke-width="3.4" stroke-linecap="round" stroke-linejoin="round"/>
<path d="M414.0,76.0 C413.6,76.4 415.4,74.4 411.8,78.4 C408.2,82.4 396.6,93.9 392.6,99.9 C388.6,105.9 387.8,109.1 387.8,114.3 C387.8,119.5 390.2,125.5 392.6,131.1 C395.0,136.7 399.4,142.7 402.2,147.9 C405.0,153.1 408.2,159.9 409.4,162.3" fill="none" stroke="#FFFFFF" stroke-width="3.8" stroke-linecap="round" stroke-linejoin="round"/>
<path d="M355.2,205.5 C353.1,206.7 347.4,209.4 342.3,212.8 C337.2,216.2 329.8,221.2 324.4,225.8 C319.0,230.4 315.6,234.5 309.9,240.4 C304.2,246.3 295.8,256.1 290.4,261.5 C285.0,266.9 283.3,267.2 277.4,272.8 C271.5,278.4 260.1,289.6 255.0,295.0 C249.8,300.4 250.1,301.1 246.5,305.0 C242.9,308.9 236.8,311.7 233.5,318.6 C230.2,325.5 228.8,337.6 227.0,346.2 C225.2,354.8 225.8,362.9 223.0,370.0 C220.2,377.1 213.4,383.8 210.5,388.8 C207.6,393.8 208.8,392.4 205.5,400.2 C202.2,407.9 194.6,425.9 190.4,435.3 C186.2,444.7 182.9,450.8 180.4,456.7 C177.9,462.6 179.6,464.3 175.3,470.5 C171.0,476.7 161.2,485.8 154.4,493.9 C147.6,502.0 140.4,511.8 134.2,519.1 C128.0,526.4 122.4,532.1 117.4,537.6 C112.4,543.1 106.2,549.6 104.0,552.0" fill="none" stroke="#FFFFFF" stroke-width="3.5" stroke-linecap="round" stroke-linejoin="round"/>
<path d="M395.8,171.5 C398.2,169.8 403.9,165.6 410.4,161.0 C416.9,156.4 428.8,148.4 434.7,143.9 C440.6,139.4 444.1,135.7 446.0,134.0" fill="none" stroke="#FFFFFF" stroke-width="4.0" stroke-linecap="round" stroke-linejoin="round"/>
<path d="M150.0,368.0 C152.3,369.2 158.9,372.4 164.0,375.0 C169.1,377.6 174.7,380.9 180.4,383.8 C186.1,386.7 193.0,390.5 198.0,392.6 C203.0,394.7 206.3,394.5 210.5,396.4 C214.7,398.3 216.8,401.0 223.1,403.9 C229.4,406.8 240.9,410.6 248.2,414.0 C255.5,417.4 260.4,423.0 266.8,424.3 C273.2,425.6 280.8,420.8 286.9,421.8 C293.0,422.8 300.9,428.8 303.7,430.2" fill="none" stroke="#FFFFFF" stroke-width="3.6" stroke-linecap="round" stroke-linejoin="round"/>
<path d="M314.6,416.7 C318.7,415.6 331.7,412.0 339.0,410.0 C346.3,408.0 349.0,406.3 358.5,404.6 C368.0,402.9 389.6,400.5 395.8,399.7" fill="none" stroke="#FFFFFF" stroke-width="3.8" stroke-linecap="round" stroke-linejoin="round"/>
<rect x="111.50" y="-4.00" width="22.00" height="13.50" rx="3" fill="#FBE98F" stroke="#DAD3BC" stroke-width="1"/>
<text x="122.50" y="6.35" font-family="'Liberation Sans', sans-serif" font-size="10" font-weight="700" fill="#A39C82" text-anchor="middle" textLength="15.00" lengthAdjust="spacingAndGlyphs">295</text>
<rect x="290.20" y="243.00" width="19.00" height="17.00" rx="3" fill="#FBE98F" stroke="#DAD3BC" stroke-width="1"/>
<text x="299.70" y="255.28" font-family="'Liberation Sans', sans-serif" font-size="10.5" font-weight="700" fill="#A39C82" text-anchor="middle" textLength="10.50" lengthAdjust="spacingAndGlyphs">14</text>
<rect x="92.60" y="440.00" width="19.20" height="16.00" rx="3" fill="#FBE98F" stroke="#DAD3BC" stroke-width="1"/>
<text x="102.20" y="451.78" font-family="'Liberation Sans', sans-serif" font-size="10.5" font-weight="700" fill="#A39C82" text-anchor="middle" textLength="10.50" lengthAdjust="spacingAndGlyphs">27</text>
<rect x="71.00" y="517.10" width="21.00" height="16.40" rx="3" fill="#FBE98F" stroke="#DAD3BC" stroke-width="1"/>
<text x="81.50" y="528.90" font-family="'Liberation Sans', sans-serif" font-size="10" font-weight="700" fill="#A39C82" text-anchor="middle" textLength="15.00" lengthAdjust="spacingAndGlyphs">27a</text>
<rect x="207.80" y="537.00" width="11.00" height="16.00" rx="3" fill="#FBE98F" stroke="#DAD3BC" stroke-width="1"/>
<text x="213.30" y="548.78" font-family="'Liberation Sans', sans-serif" font-size="10.5" font-weight="700" fill="#A39C82" text-anchor="middle" textLength="5.25" lengthAdjust="spacingAndGlyphs">7</text>
<rect x="484.00" y="178.00" width="14.00" height="16.00" rx="2.5" fill="#fff" stroke="#D8D6D0" stroke-width="1"/>
<text x="486.00" y="190.00" font-family="'Liberation Sans', sans-serif" font-size="9" font-weight="700" fill="#B0ADA6">L11</text>
<rect x="307.60" y="789.00" width="30.40" height="14.00" rx="3.5" fill="#fff" stroke="#D8D6D0" stroke-width="1"/>
<text x="322.80" y="800.00" font-family="'Liberation Sans', sans-serif" font-size="8.6" font-weight="700" fill="#B0ADA6" text-anchor="middle">L1015</text>
<circle cx="80.70" cy="101.40" r="7.40" fill="#6DC56A" />
<path d="M79.8,105.6 v-3 h-1 a2.6,2.6 0 0 1 -1.4,-4.6 a3.4,3.2 0 0 1 6.6,0 a2.6,2.6 0 0 1 -1.4,4.6 h-1 v3 Z" fill="#fff"/>
<text x="80.60" y="121.60" font-family="'Liberation Sans', sans-serif" font-size="11" font-weight="700" fill="#62B85F" text-anchor="middle" textLength="71.40" lengthAdjust="spacingAndGlyphs">Höhenpark</text>
<text x="80.60" y="135.10" font-family="'Liberation Sans', sans-serif" font-size="11" font-weight="700" fill="#62B85F" text-anchor="middle" textLength="65.00" lengthAdjust="spacingAndGlyphs">Killesberg</text>
<text x="366.00" y="21.40" font-family="'Liberation Sans', sans-serif" font-size="11" font-weight="700" fill="#62B85F" text-anchor="middle" textLength="53.00" lengthAdjust="spacingAndGlyphs">Wilhelma</text>
<text x="366.00" y="33.60" font-family="'Liberation Sans', sans-serif" font-size="11" font-weight="700" fill="#62B85F" text-anchor="middle" textLength="69.00" lengthAdjust="spacingAndGlyphs">Zoologisch-</text>
<text x="366.00" y="45.60" font-family="'Liberation Sans', sans-serif" font-size="11" font-weight="700" fill="#62B85F" text-anchor="middle" textLength="69.00" lengthAdjust="spacingAndGlyphs">Botanischer</text>
<text x="366.00" y="57.70" font-family="'Liberation Sans', sans-serif" font-size="11" font-weight="700" fill="#62B85F" text-anchor="middle" textLength="95.00" lengthAdjust="spacingAndGlyphs">Garten Stuttgart</text>
<circle cx="366.20" cy="71.30" r="8.40" fill="#6DC56A" />
<path d="M361.3,70.6 q0,-3 3.4,-3 h3.6 q3.2,0 3.2,3.4 v3.6 h-1.5 v-2.4 h-3.2 v2.4 h-1.5 v-2.6 h-1.2 v2.6 h-1.4 v-2.6 q-1.4,0 -1.4,-1.4 Z" fill="#fff"/>
<circle cx="311.00" cy="98.60" r="7.40" fill="#6DC56A" />
<path d="M310.1,102.8 v-3 h-1 a2.6,2.6 0 0 1 -1.4,-4.6 a3.4,3.2 0 0 1 6.6,0 a2.6,2.6 0 0 1 -1.4,4.6 h-1 v3 Z" fill="#fff"/>
<text x="310.50" y="120.60" font-family="'Liberation Sans', sans-serif" font-size="11" font-weight="700" fill="#62B85F" text-anchor="middle" textLength="103.00" lengthAdjust="spacingAndGlyphs">Rosensteinpark</text>
<circle cx="214.50" cy="337.40" r="7.40" fill="#6DC56A" />
<path d="M213.6,341.6 v-3 h-1 a2.6,2.6 0 0 1 -1.4,-4.6 a3.4,3.2 0 0 1 6.6,0 a2.6,2.6 0 0 1 -1.4,4.6 h-1 v3 Z" fill="#fff"/>
<text x="225.50" y="335.70" font-family="'Liberation Sans', sans-serif" font-size="11" font-weight="700" fill="#62B85F" textLength="49.20" lengthAdjust="spacingAndGlyphs">Mittlerer</text>
<text x="225.50" y="348.40" font-family="'Liberation Sans', sans-serif" font-size="11" font-weight="700" fill="#62B85F" textLength="82.40" lengthAdjust="spacingAndGlyphs">Schlossgarten</text>
<text x="93.30" y="163.60" font-family="'Liberation Sans', sans-serif" font-size="16.6" font-weight="400" fill="#8F8B84" text-anchor="middle" textLength="43.20" lengthAdjust="spacingAndGlyphs" stroke="#8F8B84" stroke-width=".4" letter-spacing="1.2">Nord</text>
<text x="144.90" y="380.50" font-family="'Liberation Sans', sans-serif" font-size="16.6" font-weight="400" fill="#8F8B84" text-anchor="middle" textLength="93.70" lengthAdjust="spacingAndGlyphs" stroke="#8F8B84" stroke-width=".4" letter-spacing="1.2">Stuttgart-</text>
<text x="144.50" y="399.10" font-family="'Liberation Sans', sans-serif" font-size="16.6" font-weight="400" fill="#8F8B84" text-anchor="middle" textLength="47.30" lengthAdjust="spacingAndGlyphs" stroke="#8F8B84" stroke-width=".4" letter-spacing="1.2">Mitte</text>
<text x="395.00" y="396.60" font-family="'Liberation Sans', sans-serif" font-size="16.6" font-weight="400" fill="#8F8B84" text-anchor="middle" textLength="93.80" lengthAdjust="spacingAndGlyphs" stroke="#8F8B84" stroke-width=".4" letter-spacing="1.2">Stuttgart-</text>
<text x="395.00" y="416.00" font-family="'Liberation Sans', sans-serif" font-size="16.6" font-weight="400" fill="#8F8B84" text-anchor="middle" textLength="29.60" lengthAdjust="spacingAndGlyphs" stroke="#8F8B84" stroke-width=".4" letter-spacing="1.2">Ost</text>
<text x="50.70" y="488.40" font-family="'Liberation Sans', sans-serif" font-size="28.4" font-weight="400" fill="#8F8B84" textLength="159.60" lengthAdjust="spacing" stroke="#8F8B84" stroke-width=".8">Stuttgart</text>
<text x="415.70" y="99.70" font-family="'Liberation Sans', sans-serif" font-size="17.8" font-weight="400" fill="#8F8B84" textLength="87.00" lengthAdjust="spacingAndGlyphs" stroke="#8F8B84" stroke-width=".4" letter-spacing="1.2">Cannstatt</text>
<text x="469.90" y="670.00" font-family="'Liberation Sans', sans-serif" font-size="16.6" font-weight="400" fill="#9A968F" textLength="34.00" lengthAdjust="spacing">kopf</text>
<text x="14.90" y="625.30" font-family="'Liberation Sans', sans-serif" font-size="16.6" font-weight="400" fill="#9A968F">S</text>
<circle cx="196.50" cy="211.80" r="7.40" fill="#98A4C6" />
<rect x="193.60" y="207.60" width="5.80" height="7.60" rx="2.4" fill="#fff" />
<circle cx="196.50" cy="210.60" r="1.30" fill="#98A4C6" />
<text x="160.10" y="232.60" font-family="'Liberation Sans', sans-serif" font-size="11.6" font-weight="700" fill="#8E9ABB" textLength="72.00" lengthAdjust="spacingAndGlyphs">Pragfriedhof</text>
<circle cx="168.40" cy="265.80" r="8.60" fill="#F6A544" />
<rect x="164.20" y="262.80" width="4.20" height="6.60" rx="0" fill="#fff" />
<rect x="167.60" y="264.40" width="5.60" height="5.00" rx="0.8" fill="#fff" />
<text x="169.00" y="286.60" font-family="'Liberation Sans', sans-serif" font-size="11.6" font-weight="700" fill="#F2A23F" text-anchor="middle" textLength="43.90" lengthAdjust="spacingAndGlyphs">Milaneo</text>
<rect x="183.20" y="324.40" width="8.80" height="9.00" rx="1.6" fill="#7FB4F4" />
<rect x="185.20" y="326.00" width="4.80" height="4.40" rx="0.8" fill="#fff" />
<text transform="translate(244.2,31.3) rotate(-14.9)" font-family="'Liberation Sans', sans-serif" font-size="11.2" font-weight="400" fill="#A9A59D" textLength="89.0" lengthAdjust="spacing">Löwentorstraße</text>
<text transform="translate(262.8,243.6) rotate(-80.0)" font-family="'Liberation Sans', sans-serif" font-size="11.2" font-weight="400" fill="#A9A59D" textLength="97.0" lengthAdjust="spacing">Rosensteinstraße</text>
<text transform="translate(337.4,408.4) rotate(-82.4)" font-family="'Liberation Sans', sans-serif" font-size="11.2" font-weight="400" fill="#A9A59D" textLength="115.0" lengthAdjust="spacing">Schwarenbergstraße</text>
<text transform="translate(437.5,364.0) rotate(-35.8)" font-family="'Liberation Sans', sans-serif" font-size="11.2" font-weight="400" fill="#A9A59D" textLength="52.0" lengthAdjust="spacing">Talstraße</text>
<text transform="translate(12.0,336.5) rotate(32.6)" font-family="'Liberation Sans', sans-serif" font-size="11.2" font-weight="400" fill="#A9A59D" textLength="50.0" lengthAdjust="spacing">Herdweg</text>
<text transform="translate(-35.1,427.2) rotate(-29.0)" font-family="'Liberation Sans', sans-serif" font-size="11.2" font-weight="400" fill="#A9A59D" textLength="87.0" lengthAdjust="spacing">Hegelbergstraße</text>
<text transform="translate(9.5,463.3) rotate(-24.4)" font-family="'Liberation Sans', sans-serif" font-size="11.2" font-weight="400" fill="#A9A59D" textLength="78.0" lengthAdjust="spacing">Schloßstraße</text>
<text transform="translate(-47.6,584.4) rotate(-28.6)" font-family="'Liberation Sans', sans-serif" font-size="11.2" font-weight="400" fill="#A9A59D" textLength="84.0" lengthAdjust="spacing">Rotebühlstraße</text>
<text transform="translate(472.6,27.2) rotate(-43.5)" font-family="'Liberation Sans', sans-serif" font-size="9.4" font-weight="700" fill="#4C9FCB" textLength="33.0" lengthAdjust="spacing">Neckar</text>
<text transform="translate(482.0,238.0) rotate(56.0)" font-family="'Liberation Sans', sans-serif" font-size="9.6" font-weight="700" fill="#4C9FCB" textLength="30.0" lengthAdjust="spacing">Neckar</text>
<text x="13.5" y="805.3" font-family="'Liberation Sans', sans-serif" font-size="10.4" font-weight="700" fill="#8B8B8B" textLength="117" lengthAdjust="spacing" text-decoration="underline">Rechtl. Informationen</text>
<rect x="13.50" y="806.60" width="117.00" height="0.90" rx="0" fill="#8B8B8B" />
<g filter="url(#sh2)"><path d="M188.1,558.6 L190.7,563.0 L192.9,558.6 Z" fill="#EFE55B"/><circle cx="190.50" cy="541.60" r="17.70" fill="#EFE55B" />
</g><circle cx="190.50" cy="541.60" r="17.70" fill="#EFE55B" />
<path d="M190.50,541.60 L175.17,532.75 A17.70,17.70 0 0 0 190.50,559.30 Z" fill="#9B9A9F"/>
<path d="M188.1,558.6 L190.7,563.0 L190.7,558.6 Z" fill="#9B9A9F"/><path d="M190.7,558.3 L190.7,563.0 L192.9,558.6 Z" fill="#EFE55B"/><g filter="url(#sh2)"><path d="M154.4,369.6 L157.0,373.7 L159.2,369.6 Z" fill="#59CBAB"/><circle cx="156.80" cy="352.60" r="17.70" fill="#59CBAB" />
</g><circle cx="156.80" cy="352.60" r="17.70" fill="#59CBAB" />
<path d="M156.80,352.60 L141.47,343.75 A17.70,17.70 0 0 0 156.80,370.30 Z" fill="#9B9A9F"/>
<path d="M154.4,369.6 L157.0,373.7 L157.0,369.6 Z" fill="#9B9A9F"/><path d="M157.0,369.3 L157.0,373.7 L159.2,369.6 Z" fill="#59CBAB"/><g filter="url(#sh2)"><path d="M242.9,290.4 L246.8,297.2 L250.3,290.4 Z" fill="#FC5056"/><circle cx="246.60" cy="256.60" r="35.20" fill="#FC5056" />
</g><circle cx="246.60" cy="256.60" r="35.20" fill="#FC5056" />
<path d="M246.60,256.60 L216.12,239.00 A35.20,35.20 0 0 0 246.60,291.80 Z" fill="#9B9A9F"/>
<path d="M242.9,290.4 L246.8,297.2 L246.8,290.4 Z" fill="#9B9A9F"/><path d="M246.8,290.8 L246.8,297.2 L250.3,290.4 Z" fill="#FC5056"/><circle cx="246.90" cy="305.40" r="3.60" fill="#FC5056" />
<path d="M246.9,301.8 A3.6,3.6 0 0 0 246.9,309.0 Z" fill="#8E8D92"/><g filter="url(#sh1)"><circle cx="36.30" cy="58.80" r="26.00" fill="#fff" />
<circle cx="458.00" cy="58.80" r="26.00" fill="#fff" />
<circle cx="458.00" cy="120.80" r="26.00" fill="#fff" />
<circle cx="458.00" cy="183.00" r="26.00" fill="#fff" />
</g>
<g stroke="#167C30" stroke-width="2.4" stroke-linecap="round" fill="#fff"><path d="M25.2,51.9 H47.2 M25.2,58.9 H47.2 M25.2,65.9 H47.2"/><circle cx="41.6" cy="51.9" r="2.6" stroke-width="1.8"/><circle cx="30.8" cy="58.9" r="2.6" stroke-width="1.8"/><circle cx="41.6" cy="65.9" r="2.6" stroke-width="1.8"/></g>
<circle cx="455.2" cy="56.4" r="7.9" fill="none" stroke="#167C30" stroke-width="2.2"/><path d="M461.4,62.8 L468.6,69.8" stroke="#167C30" stroke-width="3.2" stroke-linecap="round"/>
<circle cx="458" cy="120.8" r="12.4" fill="none" stroke="#167C30" stroke-width="2"/><text x="458.00" y="128.60" font-family="'Liberation Serif', serif" font-size="21" font-weight="700" fill="#167C30" text-anchor="middle">i</text>
<path d="M468,172.9 L448.1,181.9 L456.7,184.3 L458.8,192.7 Z" fill="none" stroke="#167C30" stroke-width="2" stroke-linejoin="round"/>
<g><rect x="24.50" y="550.00" width="445.50" height="246.90" rx="15" fill="#FC5056" />
<rect x="24.50" y="550.00" width="445.50" height="246.9" rx="15" fill="url(#stripeK)" mask="url(#fadeM)" transform=""/>
<text x="44.70" y="590.00" font-family="'Liberation Sans', sans-serif" font-size="23.6" font-weight="700" fill="#fff" textLength="254.70" lengthAdjust="spacingAndGlyphs" style="filter:drop-shadow(0 1px 1.5px rgba(0,0,0,.18))">Stuttgart Am Neckartor</text>
<rect x="43.30" y="612.40" width="407.90" height="98.70" rx="10" fill="#FFDEDD" />
<rect x="43.30" y="721.20" width="407.90" height="56.90" rx="10" fill="#FFDEDD" />
<text x="94.29" y="643.30" font-family="'Liberation Sans', sans-serif" font-size="16.6" font-weight="700" fill="#262626" text-anchor="middle" textLength="23.60" lengthAdjust="spacingAndGlyphs">LQI</text>
<text x="94.29" y="667.20" font-family="'Liberation Sans', sans-serif" font-size="14.6" font-weight="400" fill="#5a5a5a" text-anchor="middle" textLength="54.40" lengthAdjust="spacingAndGlyphs">schlecht</text>
<circle cx="94.29" cy="686.80" r="11.50" fill="#FC5056" />
<path d="M94.29,686.80 L84.33,681.05 A11.50,11.50 0 0 0 94.29,698.30 Z" fill="#9B9A9F"/>
<rect x="144.15" y="629.70" width="1.00" height="64.20" rx="0" fill="#7a7a7a" fill-opacity=".75"/>
<text x="179.66" y="643.30" font-family="'Liberation Sans', sans-serif" font-size="16.6" font-weight="700" fill="#262626" textLength="22.60" lengthAdjust="spacingAndGlyphs">PM</text>
<text x="202.56" y="647.90" font-family="'Liberation Sans', sans-serif" font-size="10.2" font-weight="700" fill="#262626" textLength="10.30" lengthAdjust="spacingAndGlyphs">10</text>
<text x="196.26" y="667.20" font-family="'Liberation Sans', sans-serif" font-size="14.6" font-weight="400" fill="#5a5a5a" text-anchor="middle" textLength="61.70" lengthAdjust="spacingAndGlyphs">73 µg/m³</text>
<circle cx="196.26" cy="686.80" r="11.50" fill="#FC5056" />
<text x="289.64" y="643.30" font-family="'Liberation Sans', sans-serif" font-size="16.6" font-weight="700" fill="#8a8585" textLength="10.60" lengthAdjust="spacingAndGlyphs">O</text>
<text x="300.54" y="647.90" font-family="'Liberation Sans', sans-serif" font-size="10.2" font-weight="700" fill="#8a8585" textLength="6.30" lengthAdjust="spacingAndGlyphs">3</text>
<rect x="294.64" y="662.20" width="7.20" height="1.10" rx="0" fill="#9a9494" />
<circle cx="298.24" cy="686.80" r="11.50" fill="#A39595" />
<text x="386.01" y="643.30" font-family="'Liberation Sans', sans-serif" font-size="16.6" font-weight="700" fill="#262626" textLength="21.40" lengthAdjust="spacingAndGlyphs">NO</text>
<text x="407.71" y="647.90" font-family="'Liberation Sans', sans-serif" font-size="10.2" font-weight="700" fill="#262626" textLength="6.70" lengthAdjust="spacingAndGlyphs">2</text>
<text x="400.21" y="667.20" font-family="'Liberation Sans', sans-serif" font-size="14.6" font-weight="400" fill="#5a5a5a" text-anchor="middle" textLength="70.10" lengthAdjust="spacingAndGlyphs">121 µg/m³</text>
<circle cx="400.21" cy="686.80" r="11.50" fill="#FC5056" />
<g transform="translate(61.00,738.60)" fill="#97979C"><path d="M3.3,7.6 L5.2,1.4 Q5.6,0.1 7,0.1 H19 Q20.4,0.1 20.8,1.4 L22.7,7.6 Z M5.6,7 H20.3 L18.9,2.7 Q18.7,2.1 18.1,2.1 H7.8 Q7.2,2.1 7,2.7 Z" fill-rule="evenodd"/><rect x="0" y="5.6" width="5.2" height="2.9" rx="1.4"/><rect x="21.1" y="5.6" width="5.2" height="2.9" rx="1.4"/><path d="M3.2,7.6 H23.1 L26.3,10.8 V15.4 Q26.3,17.6 24.1,17.6 H2.2 Q0,17.6 0,15.4 V10.8 Z M2.9,11.7 Q1.5,11.7 1.5,13.1 Q1.5,14.6 2.9,14.6 H5.4 Q6.8,14.6 6.8,13.1 Q6.8,11.7 5.4,11.7 Z M20.9,11.7 Q19.5,11.7 19.5,13.1 Q19.5,14.6 20.9,14.6 H23.4 Q24.8,14.6 24.8,13.1 Q24.8,11.7 23.4,11.7 Z" fill-rule="evenodd"/><rect x="0.7" y="15" width="5.6" height="6.8" rx="1.6"/><rect x="20" y="15" width="5.6" height="6.8" rx="1.6"/></g>
<circle cx="162.65" cy="749.30" r="8.2" fill="none" stroke="#A1A1A6" stroke-width="1.4"/><path d="M163.25,743.70 V750.70 H157.75" fill="none" stroke="#A1A1A6" stroke-width="1.4"/><text x="178.85" y="754.30" font-family="'Liberation Sans', sans-serif" font-size="16.6" font-weight="400" fill="#3a3a3a" textLength="96.20" lengthAdjust="spacingAndGlyphs">Heute, 08:00</text>
<path d="M356.70,742.90 L343.20,749.10 L349.80,749.80 L350.50,756.10 Z" fill="#97979C"/><text x="366.80" y="754.30" font-family="'Liberation Sans', sans-serif" font-size="16.6" font-weight="400" fill="#3a3a3a" textLength="54.60" lengthAdjust="spacingAndGlyphs">509 km</text>
</g>
<g fill="#000"><rect x="7.40" y="11.8" width="3.60" height="5.10" rx="1"/><rect x="12.70" y="9.7" width="3.50" height="7.20" rx="1"/><rect x="17.90" y="7.6" width="3.60" height="9.30" rx="1"/><rect x="23.20" y="5.2" width="3.70" height="11.70" rx="1"/><path d="M31.19,9.44 A10.55,10.55 0 0 1 46.11,9.44" fill="none" stroke="#000" stroke-width="2.3"/><path d="M33.91,12.16 A6.7,6.7 0 0 1 43.39,12.16" fill="none" stroke="#000" stroke-width="2.3"/><path d="M38.65,16.90 L35.89,14.14 A3.9,3.9 0 0 1 41.41,14.14 Z"/><path d="M378.60,6.0 L367.70,10.70 L373.10,11.50 L373.90,16.60 Z"/><path d="M387.00,8.60 L393.40,14.40 L390.20,17.60 L390.20,5.20 L393.40,8.40 L387.00,14.20" fill="none" stroke="#000" stroke-width="1.15" stroke-linejoin="miter"/><path d="M486.30,6.0 L481.70,12.30 L484.80,12.30 L483.80,17.00 L488.50,10.60 L485.40,10.60 Z"/></g>
<rect x="447.40" y="5.4" width="27.2" height="11.8" rx="2.8" fill="none" stroke="#000" stroke-opacity=".45" stroke-width="1.1"/><rect x="449.40" y="7.4" width="23.2" height="7.8" rx="1.4" fill="#4CD964"/><path d="M476.00,9.2 a2,2.2 0 0 1 0,4.4 Z" fill="#000" fill-opacity=".45"/><text x="249.50" y="16.60" font-family="'Liberation Sans', sans-serif" font-size="13.8" font-weight="400" fill="#000" text-anchor="middle" textLength="40.00" lengthAdjust="spacingAndGlyphs" stroke="#000" stroke-width=".55">09:41</text>
<text x="402.60" y="16.60" font-family="'Liberation Sans', sans-serif" font-size="13.8" font-weight="400" fill="#000" textLength="39.60" lengthAdjust="spacingAndGlyphs">100 %</text>
<rect x="0.00" y="818.40" width="494.40" height="60.00" rx="0" fill="#F8F8F8" />
<rect x="0.00" y="818.00" width="494.40" height="0.80" rx="0" fill="#C4C4C4" />
<path d="M78.26,824.39 L79.63,823.48 L82.37,824.16 L83.74,825.76 L84.66,826.90 L86.94,825.53 L89.22,824.85 L91.05,826.22 L91.96,828.96 L92.88,831.70 L93.79,834.44 L94.47,837.18 L93.56,838.32 L91.51,839.23 L89.22,840.83 L89.22,841.97 L91.05,843.80 L92.65,845.63 L91.96,847.68 L91.05,848.59 L91.51,849.96 L90.14,850.88 L88.31,849.96 L86.03,851.33 L83.29,852.47 L81.00,851.56 L78.72,851.11 L76.89,852.02 L75.30,851.56 L75.30,849.51 L76.21,847.22 L76.44,845.40 L74.61,844.94 L72.56,844.26 L71.78,842.20 L71.78,839.00 L71.96,836.26 L72.24,834.89 L73.70,833.75 L74.25,831.24 L74.84,828.96 L75.98,827.82 L78.26,827.13 L78.72,826.22 L78.04,825.31 Z" fill="#167C30" stroke="#167C30" stroke-width="0.8" stroke-linejoin="round"/>
<text x="82.10" y="869.30" font-family="'Liberation Sans', sans-serif" font-size="11.6" font-weight="700" fill="#167C30" text-anchor="middle" textLength="78.40" lengthAdjust="spacingAndGlyphs">Aktuelle Daten</text>
<path d="M247.30,822.60 L251.27,834.44 L263.75,834.55 L253.72,841.98 L257.47,853.90 L247.30,846.65 L237.13,853.90 L240.88,841.98 L230.85,834.55 L243.33,834.44 Z" fill="#8E8E93"/>
<text x="246.90" y="869.30" font-family="'Liberation Sans', sans-serif" font-size="11.6" font-weight="700" fill="#8E8E93" text-anchor="middle" textLength="49.30" lengthAdjust="spacingAndGlyphs">Favoriten</text>
<circle cx="412.00" cy="838.1" r="13.6" fill="none" stroke="#8E8E93" stroke-width="1.5"/><text x="412.00" y="845.40" font-family="'Liberation Serif', serif" font-size="20" font-weight="700" fill="#8E8E93" text-anchor="middle">i</text>
<text x="411.60" y="869.30" font-family="'Liberation Sans', sans-serif" font-size="11.6" font-weight="700" fill="#8E8E93" text-anchor="middle" textLength="75.40" lengthAdjust="spacingAndGlyphs">Informationen</text>
</g>
<rect x="494.40" y="0.00" width="1.70" height="876.00" rx="0" fill="#CBCBCB" />
<g clip-path="url(#clipP2)">
<rect x="526.00" y="0.00" width="495.30" height="876.00" rx="0" fill="#fff" />
<rect x="526.00" y="0.00" width="495.30" height="333.80" rx="0" fill="#FC5056" />
<rect x="526" y="0" width="495.3" height="162.4" fill="url(#stripeK)" mask="url(#fadeHM)"/>
<rect x="526.00" y="162.00" width="495.30" height="1.00" rx="0" fill="#000" fill-opacity=".06"/>
<g fill="#fff"><rect x="533.40" y="11.8" width="3.60" height="5.10" rx="1"/><rect x="538.70" y="9.7" width="3.50" height="7.20" rx="1"/><rect x="543.90" y="7.6" width="3.60" height="9.30" rx="1"/><rect x="549.20" y="5.2" width="3.70" height="11.70" rx="1"/><path d="M557.19,9.44 A10.55,10.55 0 0 1 572.11,9.44" fill="none" stroke="#fff" stroke-width="2.3"/><path d="M559.91,12.16 A6.7,6.7 0 0 1 569.39,12.16" fill="none" stroke="#fff" stroke-width="2.3"/><path d="M564.65,16.90 L561.89,14.14 A3.9,3.9 0 0 1 567.41,14.14 Z"/><path d="M904.60,6.0 L893.70,10.70 L899.10,11.50 L899.90,16.60 Z"/><path d="M913.00,8.60 L919.40,14.40 L916.20,17.60 L916.20,5.20 L919.40,8.40 L913.00,14.20" fill="none" stroke="#fff" stroke-width="1.15" stroke-linejoin="miter"/><path d="M1012.30,6.0 L1007.70,12.30 L1010.80,12.30 L1009.80,17.00 L1014.50,10.60 L1011.40,10.60 Z"/></g>
<rect x="973.40" y="5.4" width="27.2" height="11.8" rx="2.8" fill="none" stroke="#fff" stroke-opacity=".45" stroke-width="1.1"/><rect x="975.40" y="7.4" width="23.2" height="7.8" rx="1.4" fill="#4CD964"/><path d="M1002.00,9.2 a2,2.2 0 0 1 0,4.4 Z" fill="#fff" fill-opacity=".45"/><text x="775.50" y="16.60" font-family="'Liberation Sans', sans-serif" font-size="13.8" font-weight="400" fill="#fff" text-anchor="middle" textLength="40.00" lengthAdjust="spacingAndGlyphs" stroke="#fff" stroke-width=".55">09:41</text>
<text x="928.60" y="16.60" font-family="'Liberation Sans', sans-serif" font-size="13.8" font-weight="400" fill="#fff" textLength="39.60" lengthAdjust="spacingAndGlyphs">100 %</text>
<path d="M550.9,33.8 L561,43.6 L571.1,33.8" fill="none" stroke="#fff" stroke-width="1.6" stroke-linecap="round" stroke-linejoin="round"/>
<path d="M933.40,27.00 L936.88,34.81 L945.38,35.71 L939.03,41.43 L940.81,49.79 L933.40,45.52 L925.99,49.79 L927.77,41.43 L921.42,35.71 L929.92,34.81 Z" fill="#fff" stroke="#fff" stroke-width="2.4" stroke-linejoin="round"/>
<path d="M979.6,33.6 H975.4 Q974.6,33.6 974.6,34.4 V50.2 Q974.6,51 975.4,51 H992 Q992.8,51 992.8,50.2 V34.4 Q992.8,33.6 992,33.6 H987.8" fill="none" stroke="#fff" stroke-width="1.5" stroke-linecap="round"/>
<path d="M983.7,42.2 V24.6 M979.2,28.8 L983.7,24.2 L988.2,28.8" fill="none" stroke="#fff" stroke-width="1.5" stroke-linecap="round" stroke-linejoin="round"/>
<text x="546.20" y="92.90" font-family="'Liberation Sans', sans-serif" font-size="17.7" font-weight="700" fill="#fff" textLength="194.80" lengthAdjust="spacingAndGlyphs">Stuttgart Am Neckartor</text>
<text x="546.00" y="134.30" font-family="'Liberation Serif', serif" font-size="35.5" font-weight="700" fill="#fff" textLength="132.80" lengthAdjust="spacingAndGlyphs">schlecht</text>
<g filter="url(#shTab)"><path d="M555.3,180.2 H660 V279 H555.3 Q545.3,279 545.3,269 V190.2 Q545.3,180.2 555.3,180.2 Z" fill="#fff"/><path d="M590.4,278.5 L602.4,288.4 L614.4,278.5 Z" fill="#fff"/></g>
<path d="M660,180.2 H991.8 Q1001.8,180.2 1001.8,190.2 V269 Q1001.8,279 991.8,279 H660 Z" fill="#FFEEED"/>
<linearGradient id="tabsh" x1="0" x2="1" y1="0" y2="0"><stop offset="0" stop-color="#7a1518" stop-opacity=".16"/><stop offset="1" stop-color="#7a1518" stop-opacity="0"/></linearGradient><rect x="660" y="180.2" width="5" height="98.8" fill="url(#tabsh)"/>
<text x="602.40" y="218.00" font-family="'Liberation Sans', sans-serif" font-size="17" font-weight="700" fill="#262626" text-anchor="middle" textLength="23.80" lengthAdjust="spacingAndGlyphs">LQI</text>
<circle cx="602.40" cy="243.40" r="15.60" fill="#FC5056" />
<path d="M602.40,243.40 L588.89,235.60 A15.60,15.60 0 0 0 602.40,259.00 Z" fill="#9B9A9F"/>
<text x="700.30" y="218.00" font-family="'Liberation Sans', sans-serif" font-size="17" font-weight="700" fill="#262626" textLength="23.20" lengthAdjust="spacingAndGlyphs">PM</text>
<text x="723.90" y="222.40" font-family="'Liberation Sans', sans-serif" font-size="9.8" font-weight="700" fill="#262626" textLength="10.40" lengthAdjust="spacingAndGlyphs">10</text>
<circle cx="716.80" cy="243.40" r="11.50" fill="#FC5056" />
<text x="822.30" y="218.00" font-family="'Liberation Sans', sans-serif" font-size="17" font-weight="700" fill="#6a6a6a" textLength="10.60" lengthAdjust="spacingAndGlyphs">O</text>
<text x="833.30" y="222.40" font-family="'Liberation Sans', sans-serif" font-size="9.8" font-weight="700" fill="#6a6a6a" textLength="6.20" lengthAdjust="spacingAndGlyphs">3</text>
<circle cx="830.50" cy="243.40" r="11.50" fill="#686868" />
<text x="931.20" y="218.00" font-family="'Liberation Sans', sans-serif" font-size="17" font-weight="700" fill="#262626" textLength="21.20" lengthAdjust="spacingAndGlyphs">NO</text>
<text x="952.80" y="222.40" font-family="'Liberation Sans', sans-serif" font-size="9.8" font-weight="700" fill="#262626" textLength="6.40" lengthAdjust="spacingAndGlyphs">2</text>
<circle cx="944.80" cy="243.40" r="11.50" fill="#FC5056" />
<path d="M545.3,334.5 V309.7 Q545.3,297.7 557.3,297.7 H989.8 Q1001.8,297.7 1001.8,309.7 V334.5 Z" fill="#fff"/>
<text x="574.90" y="344.50" font-family="'Liberation Sans', sans-serif" font-size="19" font-weight="700" fill="#2a2a2a" textLength="153.20" lengthAdjust="spacingAndGlyphs">Luftqualitätsindex</text>
<text x="574.90" y="387.60" font-family="'Liberation Serif', serif" font-size="35.5" font-weight="700" fill="#FC5056" textLength="131.80" lengthAdjust="spacingAndGlyphs">schlecht</text>
<text x="584.20" y="442.60" font-family="'Liberation Sans', sans-serif" font-size="17.2" font-weight="400" fill="#3a3a3a" textLength="74.00" lengthAdjust="spacingAndGlyphs">letzte 24h</text>
<text x="745.50" y="442.60" font-family="'Liberation Sans', sans-serif" font-size="17.2" font-weight="400" fill="#3a3a3a" textLength="55.20" lengthAdjust="spacingAndGlyphs">gestern</text>
<text x="900.90" y="442.60" font-family="'Liberation Sans', sans-serif" font-size="17.2" font-weight="700" fill="#2a2a2a" textLength="48.50" lengthAdjust="spacingAndGlyphs">29.06.</text>
<rect x="545.30" y="458.00" width="456.50" height="4.60" rx="0" fill="#E5E5EA" />
<rect x="849.40" y="458.00" width="152.40" height="4.60" rx="0" fill="#167C30" />
<rect x="543.00" y="521.50" width="417.00" height="1.00" rx="0" fill="#F3F3F3" />
<rect x="543.00" y="551.30" width="417.00" height="1.00" rx="0" fill="#F3F3F3" />
<rect x="543.00" y="581.00" width="417.00" height="1.00" rx="0" fill="#F3F3F3" />
<rect x="543.00" y="610.80" width="417.00" height="1.00" rx="0" fill="#F3F3F3" />
<rect x="543.00" y="640.80" width="417.00" height="1.00" rx="0" fill="#F3F3F3" />
<rect x="543.00" y="670.80" width="417.00" height="1.00" rx="0" fill="#F3F3F3" />
<rect x="545.85" y="637.10" width="8.50" height="38.50" rx="4.25" fill="#5CEEE3" />
<rect x="563.33" y="637.10" width="8.50" height="38.50" rx="4.25" fill="#5CEEE3" />
<rect x="580.81" y="593.20" width="8.50" height="82.40" rx="4.25" fill="#EFE55B" />
<rect x="598.29" y="597.10" width="8.50" height="78.50" rx="4.25" fill="#EFE55B" />
<rect x="615.77" y="597.80" width="8.50" height="77.80" rx="4.25" fill="#EFE55B" />
<rect x="633.25" y="600.80" width="8.50" height="74.80" rx="4.25" fill="#EFE55B" />
<rect x="650.73" y="596.60" width="8.50" height="79.00" rx="4.25" fill="#EFE55B" />
<rect x="668.21" y="600.00" width="8.50" height="75.60" rx="4.25" fill="#EFE55B" />
<rect x="685.69" y="600.80" width="8.50" height="74.80" rx="4.25" fill="#EFE55B" />
<rect x="703.17" y="601.70" width="8.50" height="73.90" rx="4.25" fill="#EFE55B" />
<rect x="720.65" y="606.40" width="8.50" height="69.20" rx="4.25" fill="#EFE55B" />
<rect x="738.13" y="601.70" width="8.50" height="73.90" rx="4.25" fill="#EFE55B" />
<rect x="755.61" y="597.80" width="8.50" height="77.80" rx="4.25" fill="#EFE55B" />
<rect x="773.09" y="596.40" width="8.50" height="79.20" rx="4.25" fill="#EFE55B" />
<rect x="790.57" y="597.40" width="8.50" height="78.20" rx="4.25" fill="#EFE55B" />
<rect x="808.05" y="585.30" width="8.50" height="90.30" rx="4.25" fill="#EFE55B" />
<rect x="825.53" y="591.20" width="8.50" height="84.40" rx="4.25" fill="#EFE55B" />
<rect x="843.01" y="579.70" width="8.50" height="95.90" rx="4.25" fill="#EFE55B" />
<rect x="860.49" y="576.30" width="8.50" height="99.30" rx="4.25" fill="#FC5056" />
<rect x="877.97" y="564.50" width="8.50" height="111.10" rx="4.25" fill="#FC5056" />
<rect x="895.45" y="579.20" width="8.50" height="96.40" rx="4.25" fill="#EFE55B" />
<rect x="912.93" y="582.20" width="8.50" height="93.40" rx="4.25" fill="#EFE55B" />
<rect x="930.41" y="581.00" width="8.50" height="94.60" rx="4.25" fill="#EFE55B" />
<rect x="947.89" y="576.80" width="8.50" height="98.80" rx="4.25" fill="#FC5056" />
<text transform="translate(555.20,719.2) rotate(-90)" font-family="'Liberation Sans', sans-serif" font-size="14.2" fill="#3a3a3a" textLength="33.6" lengthAdjust="spacingAndGlyphs">00:00</text>
<text transform="translate(590.16,719.2) rotate(-90)" font-family="'Liberation Sans', sans-serif" font-size="14.2" fill="#3a3a3a" textLength="33.6" lengthAdjust="spacingAndGlyphs">02:00</text>
<text transform="translate(625.12,719.2) rotate(-90)" font-family="'Liberation Sans', sans-serif" font-size="14.2" fill="#3a3a3a" textLength="33.6" lengthAdjust="spacingAndGlyphs">04:00</text>
<text transform="translate(660.08,719.2) rotate(-90)" font-family="'Liberation Sans', sans-serif" font-size="14.2" fill="#3a3a3a" textLength="33.6" lengthAdjust="spacingAndGlyphs">06:00</text>
<text transform="translate(695.04,719.2) rotate(-90)" font-family="'Liberation Sans', sans-serif" font-size="14.2" fill="#3a3a3a" textLength="33.6" lengthAdjust="spacingAndGlyphs">08:00</text>
<text transform="translate(730.00,719.2) rotate(-90)" font-family="'Liberation Sans', sans-serif" font-size="14.2" fill="#3a3a3a" textLength="33.6" lengthAdjust="spacingAndGlyphs">10:00</text>
<text transform="translate(764.96,719.2) rotate(-90)" font-family="'Liberation Sans', sans-serif" font-size="14.2" fill="#3a3a3a" textLength="33.6" lengthAdjust="spacingAndGlyphs">12:00</text>
<text transform="translate(799.92,719.2) rotate(-90)" font-family="'Liberation Sans', sans-serif" font-size="14.2" fill="#3a3a3a" textLength="33.6" lengthAdjust="spacingAndGlyphs">14:00</text>
<text transform="translate(834.88,719.2) rotate(-90)" font-family="'Liberation Sans', sans-serif" font-size="14.2" fill="#3a3a3a" textLength="33.6" lengthAdjust="spacingAndGlyphs">16:00</text>
<text transform="translate(869.84,719.2) rotate(-90)" font-family="'Liberation Sans', sans-serif" font-size="14.2" fill="#3a3a3a" textLength="33.6" lengthAdjust="spacingAndGlyphs">18:00</text>
<text transform="translate(904.80,719.2) rotate(-90)" font-family="'Liberation Sans', sans-serif" font-size="14.2" fill="#3a3a3a" textLength="33.6" lengthAdjust="spacingAndGlyphs">20:00</text>
<text transform="translate(939.76,719.2) rotate(-90)" font-family="'Liberation Sans', sans-serif" font-size="14.2" fill="#3a3a3a" textLength="33.6" lengthAdjust="spacingAndGlyphs">22:00</text>
<circle cx="549.00" cy="763.40" r="6.00" fill="#5CEEE3" />
<text x="561.40" y="767.60" font-family="'Liberation Sans', sans-serif" font-size="16" font-weight="400" fill="#444" textLength="52.40" lengthAdjust="spacingAndGlyphs">sehr gut</text>
<circle cx="632.80" cy="763.40" r="6.00" fill="#59CBAB" />
<text x="645.30" y="767.60" font-family="'Liberation Sans', sans-serif" font-size="16" font-weight="400" fill="#444" textLength="20.00" lengthAdjust="spacingAndGlyphs">gut</text>
<circle cx="684.20" cy="763.40" r="6.00" fill="#EFE55B" />
<text x="697.00" y="767.60" font-family="'Liberation Sans', sans-serif" font-size="16" font-weight="400" fill="#444" textLength="40.00" lengthAdjust="spacingAndGlyphs">mäßig</text>
<circle cx="755.80" cy="763.40" r="6.00" fill="#FC5056" />
<text x="768.30" y="767.60" font-family="'Liberation Sans', sans-serif" font-size="16" font-weight="400" fill="#444" textLength="54.90" lengthAdjust="spacingAndGlyphs">schlecht</text>
<circle cx="842.30" cy="763.40" r="6.00" fill="#960032" />
<text x="855.00" y="767.60" font-family="'Liberation Sans', sans-serif" font-size="16" font-weight="400" fill="#444" textLength="87.60" lengthAdjust="spacingAndGlyphs">sehr schlecht</text>
<circle cx="549.00" cy="793.80" r="6.00" fill="#686868" />
<text x="561.40" y="797.60" font-family="'Liberation Sans', sans-serif" font-size="16" font-weight="400" fill="#444" textLength="77.70" lengthAdjust="spacingAndGlyphs">keine Daten</text>
<rect x="545.50" y="844.20" width="456.30" height="1.00" rx="0" fill="#E6E6E6" />
<text x="545.50" y="888.00" font-family="'Liberation Serif', serif" font-size="24.5" font-weight="700" fill="#1a1a1a" textLength="359.00" lengthAdjust="spacingAndGlyphs">Gesundheitliche Empfehlungen</text>
<circle cx="983.6" cy="884.4" r="12.6" fill="none" stroke="#167C30" stroke-width="1.6"/>
</g>
<rect x="524.20" y="0.00" width="1.80" height="876.00" rx="0" fill="#CBCBCB" />
<rect x="1021.30" y="0.00" width="1.80" height="876.00" rx="0" fill="#CBCBCB" />
<g clip-path="url(#clipP3)">
<rect x="1052.00" y="0.00" width="490.00" height="876.00" rx="0" fill="#fff" />
<g clip-path="url(#clipList3)">
<g><rect x="1071.50" y="103.10" width="456.50" height="246.90" rx="15" fill="#FC5056" />
<rect x="1071.50" y="103.10" width="456.50" height="246.9" rx="15" fill="url(#stripeK)" mask="url(#fadeM)" transform=""/>
<text x="1091.70" y="143.10" font-family="'Liberation Sans', sans-serif" font-size="23.6" font-weight="700" fill="#fff" textLength="254.70" lengthAdjust="spacingAndGlyphs" style="filter:drop-shadow(0 1px 1.5px rgba(0,0,0,.18))">Stuttgart Am Neckartor</text>
<rect x="1090.30" y="165.50" width="418.90" height="98.70" rx="10" fill="#FFDEDD" />
<rect x="1090.30" y="274.30" width="418.90" height="56.90" rx="10" fill="#FFDEDD" />
<text x="1142.66" y="196.40" font-family="'Liberation Sans', sans-serif" font-size="16.6" font-weight="700" fill="#262626" text-anchor="middle" textLength="23.60" lengthAdjust="spacingAndGlyphs">LQI</text>
<text x="1142.66" y="220.30" font-family="'Liberation Sans', sans-serif" font-size="14.6" font-weight="400" fill="#5a5a5a" text-anchor="middle" textLength="54.40" lengthAdjust="spacingAndGlyphs">schlecht</text>
<circle cx="1142.66" cy="239.90" r="11.50" fill="#FC5056" />
<path d="M1142.66,239.90 L1132.70,234.15 A11.50,11.50 0 0 0 1142.66,251.40 Z" fill="#9B9A9F"/>
<rect x="1194.12" y="182.80" width="1.00" height="64.20" rx="0" fill="#7a7a7a" fill-opacity=".75"/>
<text x="1230.79" y="196.40" font-family="'Liberation Sans', sans-serif" font-size="16.6" font-weight="700" fill="#262626" textLength="22.60" lengthAdjust="spacingAndGlyphs">PM</text>
<text x="1253.69" y="201.00" font-family="'Liberation Sans', sans-serif" font-size="10.2" font-weight="700" fill="#262626" textLength="10.30" lengthAdjust="spacingAndGlyphs">10</text>
<text x="1247.39" y="220.30" font-family="'Liberation Sans', sans-serif" font-size="14.6" font-weight="400" fill="#5a5a5a" text-anchor="middle" textLength="61.70" lengthAdjust="spacingAndGlyphs">73 µg/m³</text>
<circle cx="1247.39" cy="239.90" r="11.50" fill="#FC5056" />
<text x="1343.51" y="196.40" font-family="'Liberation Sans', sans-serif" font-size="16.6" font-weight="700" fill="#8a8585" textLength="10.60" lengthAdjust="spacingAndGlyphs">O</text>
<text x="1354.41" y="201.00" font-family="'Liberation Sans', sans-serif" font-size="10.2" font-weight="700" fill="#8a8585" textLength="6.30" lengthAdjust="spacingAndGlyphs">3</text>
<rect x="1348.51" y="215.30" width="7.20" height="1.10" rx="0" fill="#9a9494" />
<circle cx="1352.11" cy="239.90" r="11.50" fill="#A39595" />
<text x="1442.64" y="196.40" font-family="'Liberation Sans', sans-serif" font-size="16.6" font-weight="700" fill="#262626" textLength="21.40" lengthAdjust="spacingAndGlyphs">NO</text>
<text x="1464.34" y="201.00" font-family="'Liberation Sans', sans-serif" font-size="10.2" font-weight="700" fill="#262626" textLength="6.70" lengthAdjust="spacingAndGlyphs">2</text>
<text x="1456.84" y="220.30" font-family="'Liberation Sans', sans-serif" font-size="14.6" font-weight="400" fill="#5a5a5a" text-anchor="middle" textLength="70.10" lengthAdjust="spacingAndGlyphs">121 µg/m³</text>
<circle cx="1456.84" cy="239.90" r="11.50" fill="#FC5056" />
<g transform="translate(1108.00,291.70)" fill="#97979C"><path d="M3.3,7.6 L5.2,1.4 Q5.6,0.1 7,0.1 H19 Q20.4,0.1 20.8,1.4 L22.7,7.6 Z M5.6,7 H20.3 L18.9,2.7 Q18.7,2.1 18.1,2.1 H7.8 Q7.2,2.1 7,2.7 Z" fill-rule="evenodd"/><rect x="0" y="5.6" width="5.2" height="2.9" rx="1.4"/><rect x="21.1" y="5.6" width="5.2" height="2.9" rx="1.4"/><path d="M3.2,7.6 H23.1 L26.3,10.8 V15.4 Q26.3,17.6 24.1,17.6 H2.2 Q0,17.6 0,15.4 V10.8 Z M2.9,11.7 Q1.5,11.7 1.5,13.1 Q1.5,14.6 2.9,14.6 H5.4 Q6.8,14.6 6.8,13.1 Q6.8,11.7 5.4,11.7 Z M20.9,11.7 Q19.5,11.7 19.5,13.1 Q19.5,14.6 20.9,14.6 H23.4 Q24.8,14.6 24.8,13.1 Q24.8,11.7 23.4,11.7 Z" fill-rule="evenodd"/><rect x="0.7" y="15" width="5.6" height="6.8" rx="1.6"/><rect x="20" y="15" width="5.6" height="6.8" rx="1.6"/></g>
<circle cx="1215.15" cy="302.40" r="8.2" fill="none" stroke="#A1A1A6" stroke-width="1.4"/><path d="M1215.75,296.80 V303.80 H1210.25" fill="none" stroke="#A1A1A6" stroke-width="1.4"/><text x="1231.35" y="307.40" font-family="'Liberation Sans', sans-serif" font-size="16.6" font-weight="400" fill="#3a3a3a" textLength="96.20" lengthAdjust="spacingAndGlyphs">Heute, 08:00</text>
<path d="M1414.70,296.00 L1401.20,302.20 L1407.80,302.90 L1408.50,309.20 Z" fill="#97979C"/><text x="1424.80" y="307.40" font-family="'Liberation Sans', sans-serif" font-size="16.6" font-weight="400" fill="#3a3a3a" textLength="54.60" lengthAdjust="spacingAndGlyphs">509 km</text>
</g>
<g><rect x="1071.50" y="362.70" width="456.50" height="246.90" rx="15" fill="#59CBAB" />
<rect x="1071.50" y="362.70" width="456.50" height="246.9" rx="15" fill="url(#stripeK)" mask="url(#fadeM)" transform=""/>
<text x="1091.70" y="402.70" font-family="'Liberation Sans', sans-serif" font-size="23.6" font-weight="700" fill="#fff" textLength="290.70" lengthAdjust="spacingAndGlyphs" style="filter:drop-shadow(0 1px 1.5px rgba(0,0,0,.18))">Berlin Mariendorfer Damm</text>
<rect x="1090.30" y="425.10" width="418.90" height="98.70" rx="10" fill="#DDF5EE" />
<rect x="1090.30" y="533.90" width="418.90" height="56.90" rx="10" fill="#DDF5EE" />
<text x="1142.66" y="456.00" font-family="'Liberation Sans', sans-serif" font-size="16.6" font-weight="700" fill="#262626" text-anchor="middle" textLength="23.60" lengthAdjust="spacingAndGlyphs">LQI</text>
<text x="1142.66" y="479.90" font-family="'Liberation Sans', sans-serif" font-size="14.6" font-weight="400" fill="#5a5a5a" text-anchor="middle" textLength="20.60" lengthAdjust="spacingAndGlyphs">gut</text>
<circle cx="1142.66" cy="499.50" r="11.50" fill="#59CBAB" />
<path d="M1142.66,499.50 L1132.70,493.75 A11.50,11.50 0 0 0 1142.66,511.00 Z" fill="#9B9A9F"/>
<rect x="1194.12" y="442.40" width="1.00" height="64.20" rx="0" fill="#7a7a7a" fill-opacity=".75"/>
<text x="1230.79" y="456.00" font-family="'Liberation Sans', sans-serif" font-size="16.6" font-weight="700" fill="#262626" textLength="22.60" lengthAdjust="spacingAndGlyphs">PM</text>
<text x="1253.69" y="460.60" font-family="'Liberation Sans', sans-serif" font-size="10.2" font-weight="700" fill="#262626" textLength="10.30" lengthAdjust="spacingAndGlyphs">10</text>
<text x="1247.39" y="479.90" font-family="'Liberation Sans', sans-serif" font-size="14.6" font-weight="400" fill="#5a5a5a" text-anchor="middle" textLength="61.70" lengthAdjust="spacingAndGlyphs">23 µg/m³</text>
<circle cx="1247.39" cy="499.50" r="11.50" fill="#59CBAB" />
<text x="1343.51" y="456.00" font-family="'Liberation Sans', sans-serif" font-size="16.6" font-weight="700" fill="#8a8585" textLength="10.60" lengthAdjust="spacingAndGlyphs">O</text>
<text x="1354.41" y="460.60" font-family="'Liberation Sans', sans-serif" font-size="10.2" font-weight="700" fill="#8a8585" textLength="6.30" lengthAdjust="spacingAndGlyphs">3</text>
<rect x="1348.51" y="474.90" width="7.20" height="1.10" rx="0" fill="#9a9494" />
<circle cx="1352.11" cy="499.50" r="11.50" fill="#98A09D" />
<text x="1442.64" y="456.00" font-family="'Liberation Sans', sans-serif" font-size="16.6" font-weight="700" fill="#262626" textLength="21.40" lengthAdjust="spacingAndGlyphs">NO</text>
<text x="1464.34" y="460.60" font-family="'Liberation Sans', sans-serif" font-size="10.2" font-weight="700" fill="#262626" textLength="6.70" lengthAdjust="spacingAndGlyphs">2</text>
<text x="1456.84" y="479.90" font-family="'Liberation Sans', sans-serif" font-size="14.6" font-weight="400" fill="#5a5a5a" text-anchor="middle" textLength="61.30" lengthAdjust="spacingAndGlyphs">36 µg/m³</text>
<circle cx="1456.84" cy="499.50" r="11.50" fill="#59CBAB" />
<g transform="translate(1108.00,551.30)" fill="#97979C"><path d="M3.3,7.6 L5.2,1.4 Q5.6,0.1 7,0.1 H19 Q20.4,0.1 20.8,1.4 L22.7,7.6 Z M5.6,7 H20.3 L18.9,2.7 Q18.7,2.1 18.1,2.1 H7.8 Q7.2,2.1 7,2.7 Z" fill-rule="evenodd"/><rect x="0" y="5.6" width="5.2" height="2.9" rx="1.4"/><rect x="21.1" y="5.6" width="5.2" height="2.9" rx="1.4"/><path d="M3.2,7.6 H23.1 L26.3,10.8 V15.4 Q26.3,17.6 24.1,17.6 H2.2 Q0,17.6 0,15.4 V10.8 Z M2.9,11.7 Q1.5,11.7 1.5,13.1 Q1.5,14.6 2.9,14.6 H5.4 Q6.8,14.6 6.8,13.1 Q6.8,11.7 5.4,11.7 Z M20.9,11.7 Q19.5,11.7 19.5,13.1 Q19.5,14.6 20.9,14.6 H23.4 Q24.8,14.6 24.8,13.1 Q24.8,11.7 23.4,11.7 Z" fill-rule="evenodd"/><rect x="0.7" y="15" width="5.6" height="6.8" rx="1.6"/><rect x="20" y="15" width="5.6" height="6.8" rx="1.6"/></g>
<circle cx="1215.15" cy="562.00" r="8.2" fill="none" stroke="#A1A1A6" stroke-width="1.4"/><path d="M1215.75,556.40 V563.40 H1210.25" fill="none" stroke="#A1A1A6" stroke-width="1.4"/><text x="1231.35" y="567.00" font-family="'Liberation Sans', sans-serif" font-size="16.6" font-weight="400" fill="#3a3a3a" textLength="96.20" lengthAdjust="spacingAndGlyphs">Heute, 08:00</text>
<path d="M1414.70,555.60 L1401.20,561.80 L1407.80,562.50 L1408.50,568.80 Z" fill="#97979C"/><text x="1424.80" y="567.00" font-family="'Liberation Sans', sans-serif" font-size="16.6" font-weight="400" fill="#3a3a3a" textLength="50.20" lengthAdjust="spacingAndGlyphs">7.4 km</text>
</g>
<g><rect x="1071.50" y="622.30" width="456.50" height="246.90" rx="15" fill="#EFE55B" />
<rect x="1071.50" y="622.30" width="456.50" height="246.9" rx="15" fill="url(#stripeK)" mask="url(#fadeM)" transform=""/>
<text x="1091.70" y="662.30" font-family="'Liberation Sans', sans-serif" font-size="23.6" font-weight="700" fill="#fff" textLength="170.10" lengthAdjust="spacingAndGlyphs" style="filter:drop-shadow(0 1px 1.5px rgba(0,0,0,.18))">Friedrichshafen</text>
<rect x="1090.30" y="684.70" width="418.90" height="98.70" rx="10" fill="#FDFADC" />
<rect x="1090.30" y="793.50" width="418.90" height="56.90" rx="10" fill="#FDFADC" />
<text x="1142.66" y="715.60" font-family="'Liberation Sans', sans-serif" font-size="16.6" font-weight="700" fill="#262626" text-anchor="middle" textLength="23.60" lengthAdjust="spacingAndGlyphs">LQI</text>
<text x="1142.66" y="739.50" font-family="'Liberation Sans', sans-serif" font-size="14.6" font-weight="400" fill="#5a5a5a" text-anchor="middle" textLength="40.20" lengthAdjust="spacingAndGlyphs">mäßig</text>
<circle cx="1142.66" cy="759.10" r="11.50" fill="#EFE55B" />
<rect x="1194.12" y="702.00" width="1.00" height="64.20" rx="0" fill="#7a7a7a" fill-opacity=".75"/>
<text x="1230.79" y="715.60" font-family="'Liberation Sans', sans-serif" font-size="16.6" font-weight="700" fill="#262626" textLength="22.60" lengthAdjust="spacingAndGlyphs">PM</text>
<text x="1253.69" y="720.20" font-family="'Liberation Sans', sans-serif" font-size="10.2" font-weight="700" fill="#262626" textLength="10.30" lengthAdjust="spacingAndGlyphs">10</text>
<text x="1247.39" y="739.50" font-family="'Liberation Sans', sans-serif" font-size="14.6" font-weight="400" fill="#5a5a5a" text-anchor="middle" textLength="61.70" lengthAdjust="spacingAndGlyphs">38 µg/m³</text>
<circle cx="1247.39" cy="759.10" r="11.50" fill="#EFE55B" />
<text x="1343.51" y="715.60" font-family="'Liberation Sans', sans-serif" font-size="16.6" font-weight="700" fill="#262626" textLength="10.60" lengthAdjust="spacingAndGlyphs">O</text>
<text x="1354.41" y="720.20" font-family="'Liberation Sans', sans-serif" font-size="10.2" font-weight="700" fill="#262626" textLength="6.30" lengthAdjust="spacingAndGlyphs">3</text>
<text x="1352.11" y="739.50" font-family="'Liberation Sans', sans-serif" font-size="14.6" font-weight="400" fill="#5a5a5a" text-anchor="middle" textLength="61.70" lengthAdjust="spacingAndGlyphs">85 µg/m³</text>
<circle cx="1352.11" cy="759.10" r="11.50" fill="#59CBAB" />
<text x="1442.64" y="715.60" font-family="'Liberation Sans', sans-serif" font-size="16.6" font-weight="700" fill="#262626" textLength="21.40" lengthAdjust="spacingAndGlyphs">NO</text>
<text x="1464.34" y="720.20" font-family="'Liberation Sans', sans-serif" font-size="10.2" font-weight="700" fill="#262626" textLength="6.70" lengthAdjust="spacingAndGlyphs">2</text>
<text x="1456.84" y="739.50" font-family="'Liberation Sans', sans-serif" font-size="14.6" font-weight="400" fill="#5a5a5a" text-anchor="middle" textLength="61.30" lengthAdjust="spacingAndGlyphs">91 µg/m³</text>
<circle cx="1456.84" cy="759.10" r="11.50" fill="#EFE55B" />
<g fill="#97979C"><circle cx="1110.40" cy="814.10" r="2.70" fill="#97979C" />
<circle cx="1114.30" cy="811.90" r="4.20" fill="#97979C" />
<circle cx="1118.50" cy="813.70" r="3.10" fill="#97979C" />
<rect x="1110.40" y="812.50" width="8.20" height="4.30" rx="0" fill="#97979C" />
<path d="M1126.30,807.20 h9.8 v24 h-9.8 Z M1128.10,809.10 v2.6 h2.3 v-2.6 Z M1132.00,809.10 v2.6 h2.3 v-2.6 Z M1128.10,813.50 v2.6 h2.3 v-2.6 Z M1132.00,813.50 v2.6 h2.3 v-2.6 Z M1128.10,817.90 v2.6 h2.3 v-2.6 Z M1132.00,817.90 v2.6 h2.3 v-2.6 Z" fill-rule="evenodd"/></g><circle cx="1215.15" cy="821.60" r="8.2" fill="none" stroke="#A1A1A6" stroke-width="1.4"/><path d="M1215.75,816.00 V823.00 H1210.25" fill="none" stroke="#A1A1A6" stroke-width="1.4"/><text x="1231.35" y="826.60" font-family="'Liberation Sans', sans-serif" font-size="16.6" font-weight="400" fill="#3a3a3a" textLength="96.20" lengthAdjust="spacingAndGlyphs">Heute, 08:00</text>
<path d="M1414.70,815.20 L1401.20,821.40 L1407.80,822.10 L1408.50,828.40 Z" fill="#97979C"/><text x="1424.80" y="826.60" font-family="'Liberation Sans', sans-serif" font-size="16.6" font-weight="400" fill="#3a3a3a" textLength="54.60" lengthAdjust="spacingAndGlyphs">607 km</text>
</g>
</g>
<g fill="#000"><rect x="1059.40" y="11.8" width="3.60" height="5.10" rx="1"/><rect x="1064.70" y="9.7" width="3.50" height="7.20" rx="1"/><rect x="1069.90" y="7.6" width="3.60" height="9.30" rx="1"/><rect x="1075.20" y="5.2" width="3.70" height="11.70" rx="1"/><path d="M1083.19,9.44 A10.55,10.55 0 0 1 1098.11,9.44" fill="none" stroke="#000" stroke-width="2.3"/><path d="M1085.91,12.16 A6.7,6.7 0 0 1 1095.39,12.16" fill="none" stroke="#000" stroke-width="2.3"/><path d="M1090.65,16.90 L1087.89,14.14 A3.9,3.9 0 0 1 1093.41,14.14 Z"/><path d="M1430.60,6.0 L1419.70,10.70 L1425.10,11.50 L1425.90,16.60 Z"/><path d="M1439.00,8.60 L1445.40,14.40 L1442.20,17.60 L1442.20,5.20 L1445.40,8.40 L1439.00,14.20" fill="none" stroke="#000" stroke-width="1.15" stroke-linejoin="miter"/><path d="M1538.30,6.0 L1533.70,12.30 L1536.80,12.30 L1535.80,17.00 L1540.50,10.60 L1537.40,10.60 Z"/></g>
<rect x="1499.40" y="5.4" width="27.2" height="11.8" rx="2.8" fill="none" stroke="#000" stroke-opacity=".45" stroke-width="1.1"/><rect x="1501.40" y="7.4" width="23.2" height="7.8" rx="1.4" fill="#4CD964"/><path d="M1528.00,9.2 a2,2.2 0 0 1 0,4.4 Z" fill="#000" fill-opacity=".45"/><text x="1301.50" y="16.60" font-family="'Liberation Sans', sans-serif" font-size="13.8" font-weight="400" fill="#000" text-anchor="middle" textLength="40.00" lengthAdjust="spacingAndGlyphs" stroke="#000" stroke-width=".55">09:41</text>
<text x="1454.60" y="16.60" font-family="'Liberation Sans', sans-serif" font-size="13.8" font-weight="400" fill="#000" textLength="39.60" lengthAdjust="spacingAndGlyphs">100 %</text>
<rect x="1052.00" y="74.30" width="490.00" height="1.00" rx="0" fill="#DADADA" />
<path d="M1071,49.4 H1090.6 M1080.8,39.6 V59.2" stroke="#167C30" stroke-width="2" fill="none"/>
<text x="1299.00" y="54.00" font-family="'Liberation Sans', sans-serif" font-size="19" font-weight="700" fill="#2a2a2a" text-anchor="middle" textLength="76.00" lengthAdjust="spacingAndGlyphs">Favoriten</text>
<text x="1436.60" y="54.00" font-family="'Liberation Sans', sans-serif" font-size="19" font-weight="400" fill="#167C30" textLength="89.40" lengthAdjust="spacingAndGlyphs">Bearbeiten</text>
<rect x="1052.00" y="818.40" width="490.00" height="60.00" rx="0" fill="#F8F8F8" />
<rect x="1052.00" y="818.00" width="490.00" height="0.80" rx="0" fill="#C4C4C4" />
<path d="M1130.26,824.39 L1131.63,823.48 L1134.37,824.16 L1135.74,825.76 L1136.66,826.90 L1138.94,825.53 L1141.22,824.85 L1143.05,826.22 L1143.96,828.96 L1144.88,831.70 L1145.79,834.44 L1146.47,837.18 L1145.56,838.32 L1143.51,839.23 L1141.22,840.83 L1141.22,841.97 L1143.05,843.80 L1144.65,845.63 L1143.96,847.68 L1143.05,848.59 L1143.51,849.96 L1142.14,850.88 L1140.31,849.96 L1138.03,851.33 L1135.29,852.47 L1133.00,851.56 L1130.72,851.11 L1128.89,852.02 L1127.30,851.56 L1127.30,849.51 L1128.21,847.22 L1128.44,845.40 L1126.61,844.94 L1124.56,844.26 L1123.78,842.20 L1123.78,839.00 L1123.96,836.26 L1124.24,834.89 L1125.70,833.75 L1126.25,831.24 L1126.84,828.96 L1127.98,827.82 L1130.26,827.13 L1130.72,826.22 L1130.04,825.31 Z" fill="#8E8E93" stroke="#8E8E93" stroke-width="0.8" stroke-linejoin="round"/>
<text x="1134.10" y="869.30" font-family="'Liberation Sans', sans-serif" font-size="11.6" font-weight="700" fill="#8E8E93" text-anchor="middle" textLength="78.40" lengthAdjust="spacingAndGlyphs">Aktuelle Daten</text>
<path d="M1299.30,822.60 L1303.27,834.44 L1315.75,834.55 L1305.72,841.98 L1309.47,853.90 L1299.30,846.65 L1289.13,853.90 L1292.88,841.98 L1282.85,834.55 L1295.33,834.44 Z" fill="#167C30"/>
<text x="1298.90" y="869.30" font-family="'Liberation Sans', sans-serif" font-size="11.6" font-weight="700" fill="#167C30" text-anchor="middle" textLength="49.30" lengthAdjust="spacingAndGlyphs">Favoriten</text>
<circle cx="1464.00" cy="838.1" r="13.6" fill="none" stroke="#8E8E93" stroke-width="1.5"/><text x="1464.00" y="845.40" font-family="'Liberation Serif', serif" font-size="20" font-weight="700" fill="#8E8E93" text-anchor="middle">i</text>
<text x="1463.60" y="869.30" font-family="'Liberation Sans', sans-serif" font-size="11.6" font-weight="700" fill="#8E8E93" text-anchor="middle" textLength="75.40" lengthAdjust="spacingAndGlyphs">Informationen</text>
</g>
<rect x="1050.30" y="0.00" width="1.80" height="876.00" rx="0" fill="#CBCBCB" />
</svg>
</body></html>
